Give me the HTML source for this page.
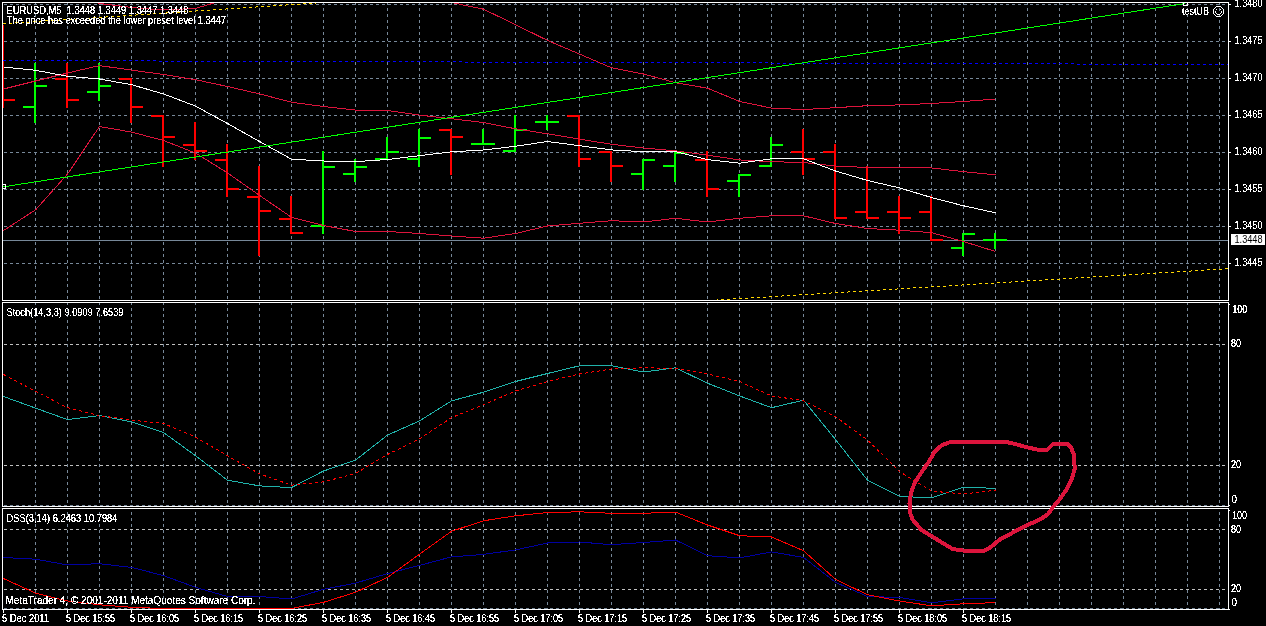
<!DOCTYPE html><html><head><meta charset="utf-8"><title>EURUSD,M5</title><style>html,body{margin:0;padding:0;background:#000;overflow:hidden}svg{display:block}text{font-family:'Liberation Sans', Arial, sans-serif;white-space:pre}</style></head><body>
<svg width="1266" height="626" viewBox="0 0 1266 626" shape-rendering="crispEdges">
<rect width="1266" height="626" fill="#000"/>
<defs><clipPath id="cm"><rect x="3" y="3" width="1225" height="297"/></clipPath><clipPath id="cs"><rect x="3" y="303" width="1225" height="203"/></clipPath><clipPath id="cd"><rect x="3" y="509" width="1225" height="100"/></clipPath></defs>
<g clip-path="url(#cm)">
<path d="M4 4.5h3M10 4.5h3M16 4.5h3M22 4.5h3M28 4.5h3M34 4.5h3M40 4.5h3M46 4.5h3M52 4.5h3M58 4.5h3M64 4.5h3M70 4.5h3M76 4.5h3M82 4.5h3M88 4.5h3M94 4.5h3M100 4.5h3M106 4.5h3M112 4.5h3M118 4.5h3M124 4.5h3M130 4.5h3M136 4.5h3M142 4.5h3M148 4.5h3M154 4.5h3M160 4.5h3M166 4.5h3M172 4.5h3M178 4.5h3M184 4.5h3M190 4.5h3M196 4.5h3M202 4.5h3M208 4.5h3M214 4.5h3M220 4.5h3M226 4.5h3M232 4.5h3M238 4.5h3M244 4.5h3M250 4.5h3M256 4.5h3M262 4.5h3M268 4.5h3M274 4.5h3M280 4.5h3M286 4.5h3M292 4.5h3M298 4.5h3M304 4.5h3M310 4.5h3M316 4.5h3M322 4.5h3M328 4.5h3M334 4.5h3M340 4.5h3M346 4.5h3M352 4.5h3M358 4.5h3M364 4.5h3M370 4.5h3M376 4.5h3M382 4.5h3M388 4.5h3M394 4.5h3M400 4.5h3M406 4.5h3M412 4.5h3M418 4.5h3M424 4.5h3M430 4.5h3M436 4.5h3M442 4.5h3M448 4.5h3M454 4.5h3M460 4.5h3M466 4.5h3M472 4.5h3M478 4.5h3M484 4.5h3M490 4.5h3M496 4.5h3M502 4.5h3M508 4.5h3M514 4.5h3M520 4.5h3M526 4.5h3M532 4.5h3M538 4.5h3M544 4.5h3M550 4.5h3M556 4.5h3M562 4.5h3M568 4.5h3M574 4.5h3M580 4.5h3M586 4.5h3M592 4.5h3M598 4.5h3M604 4.5h3M610 4.5h3M616 4.5h3M622 4.5h3M628 4.5h3M634 4.5h3M640 4.5h3M646 4.5h3M652 4.5h3M658 4.5h3M664 4.5h3M670 4.5h3M676 4.5h3M682 4.5h3M688 4.5h3M694 4.5h3M700 4.5h3M706 4.5h3M712 4.5h3M718 4.5h3M724 4.5h3M730 4.5h3M736 4.5h3M742 4.5h3M748 4.5h3M754 4.5h3M760 4.5h3M766 4.5h3M772 4.5h3M778 4.5h3M784 4.5h3M790 4.5h3M796 4.5h3M802 4.5h3M808 4.5h3M814 4.5h3M820 4.5h3M826 4.5h3M832 4.5h3M838 4.5h3M844 4.5h3M850 4.5h3M856 4.5h3M862 4.5h3M868 4.5h3M874 4.5h3M880 4.5h3M886 4.5h3M892 4.5h3M898 4.5h3M904 4.5h3M910 4.5h3M916 4.5h3M922 4.5h3M928 4.5h3M934 4.5h3M940 4.5h3M946 4.5h3M952 4.5h3M958 4.5h3M964 4.5h3M970 4.5h3M976 4.5h3M982 4.5h3M988 4.5h3M994 4.5h3M1000 4.5h3M1006 4.5h3M1012 4.5h3M1018 4.5h3M1024 4.5h3M1030 4.5h3M1036 4.5h3M1042 4.5h3M1048 4.5h3M1054 4.5h3M1060 4.5h3M1066 4.5h3M1072 4.5h3M1078 4.5h3M1084 4.5h3M1090 4.5h3M1096 4.5h3M1102 4.5h3M1108 4.5h3M1114 4.5h3M1120 4.5h3M1126 4.5h3M1132 4.5h3M1138 4.5h3M1144 4.5h3M1150 4.5h3M1156 4.5h3M1162 4.5h3M1168 4.5h3M1174 4.5h3M1180 4.5h3M1186 4.5h3M1192 4.5h3M1198 4.5h3M1204 4.5h3M1210 4.5h3M1216 4.5h3M1222 4.5h3" stroke="#778899" stroke-width="1" fill="none"/>
<path d="M4 41.5h3M10 41.5h3M16 41.5h3M22 41.5h3M28 41.5h3M34 41.5h3M40 41.5h3M46 41.5h3M52 41.5h3M58 41.5h3M64 41.5h3M70 41.5h3M76 41.5h3M82 41.5h3M88 41.5h3M94 41.5h3M100 41.5h3M106 41.5h3M112 41.5h3M118 41.5h3M124 41.5h3M130 41.5h3M136 41.5h3M142 41.5h3M148 41.5h3M154 41.5h3M160 41.5h3M166 41.5h3M172 41.5h3M178 41.5h3M184 41.5h3M190 41.5h3M196 41.5h3M202 41.5h3M208 41.5h3M214 41.5h3M220 41.5h3M226 41.5h3M232 41.5h3M238 41.5h3M244 41.5h3M250 41.5h3M256 41.5h3M262 41.5h3M268 41.5h3M274 41.5h3M280 41.5h3M286 41.5h3M292 41.5h3M298 41.5h3M304 41.5h3M310 41.5h3M316 41.5h3M322 41.5h3M328 41.5h3M334 41.5h3M340 41.5h3M346 41.5h3M352 41.5h3M358 41.5h3M364 41.5h3M370 41.5h3M376 41.5h3M382 41.5h3M388 41.5h3M394 41.5h3M400 41.5h3M406 41.5h3M412 41.5h3M418 41.5h3M424 41.5h3M430 41.5h3M436 41.5h3M442 41.5h3M448 41.5h3M454 41.5h3M460 41.5h3M466 41.5h3M472 41.5h3M478 41.5h3M484 41.5h3M490 41.5h3M496 41.5h3M502 41.5h3M508 41.5h3M514 41.5h3M520 41.5h3M526 41.5h3M532 41.5h3M538 41.5h3M544 41.5h3M550 41.5h3M556 41.5h3M562 41.5h3M568 41.5h3M574 41.5h3M580 41.5h3M586 41.5h3M592 41.5h3M598 41.5h3M604 41.5h3M610 41.5h3M616 41.5h3M622 41.5h3M628 41.5h3M634 41.5h3M640 41.5h3M646 41.5h3M652 41.5h3M658 41.5h3M664 41.5h3M670 41.5h3M676 41.5h3M682 41.5h3M688 41.5h3M694 41.5h3M700 41.5h3M706 41.5h3M712 41.5h3M718 41.5h3M724 41.5h3M730 41.5h3M736 41.5h3M742 41.5h3M748 41.5h3M754 41.5h3M760 41.5h3M766 41.5h3M772 41.5h3M778 41.5h3M784 41.5h3M790 41.5h3M796 41.5h3M802 41.5h3M808 41.5h3M814 41.5h3M820 41.5h3M826 41.5h3M832 41.5h3M838 41.5h3M844 41.5h3M850 41.5h3M856 41.5h3M862 41.5h3M868 41.5h3M874 41.5h3M880 41.5h3M886 41.5h3M892 41.5h3M898 41.5h3M904 41.5h3M910 41.5h3M916 41.5h3M922 41.5h3M928 41.5h3M934 41.5h3M940 41.5h3M946 41.5h3M952 41.5h3M958 41.5h3M964 41.5h3M970 41.5h3M976 41.5h3M982 41.5h3M988 41.5h3M994 41.5h3M1000 41.5h3M1006 41.5h3M1012 41.5h3M1018 41.5h3M1024 41.5h3M1030 41.5h3M1036 41.5h3M1042 41.5h3M1048 41.5h3M1054 41.5h3M1060 41.5h3M1066 41.5h3M1072 41.5h3M1078 41.5h3M1084 41.5h3M1090 41.5h3M1096 41.5h3M1102 41.5h3M1108 41.5h3M1114 41.5h3M1120 41.5h3M1126 41.5h3M1132 41.5h3M1138 41.5h3M1144 41.5h3M1150 41.5h3M1156 41.5h3M1162 41.5h3M1168 41.5h3M1174 41.5h3M1180 41.5h3M1186 41.5h3M1192 41.5h3M1198 41.5h3M1204 41.5h3M1210 41.5h3M1216 41.5h3M1222 41.5h3" stroke="#778899" stroke-width="1" fill="none"/>
<path d="M4 78.5h3M10 78.5h3M16 78.5h3M22 78.5h3M28 78.5h3M34 78.5h3M40 78.5h3M46 78.5h3M52 78.5h3M58 78.5h3M64 78.5h3M70 78.5h3M76 78.5h3M82 78.5h3M88 78.5h3M94 78.5h3M100 78.5h3M106 78.5h3M112 78.5h3M118 78.5h3M124 78.5h3M130 78.5h3M136 78.5h3M142 78.5h3M148 78.5h3M154 78.5h3M160 78.5h3M166 78.5h3M172 78.5h3M178 78.5h3M184 78.5h3M190 78.5h3M196 78.5h3M202 78.5h3M208 78.5h3M214 78.5h3M220 78.5h3M226 78.5h3M232 78.5h3M238 78.5h3M244 78.5h3M250 78.5h3M256 78.5h3M262 78.5h3M268 78.5h3M274 78.5h3M280 78.5h3M286 78.5h3M292 78.5h3M298 78.5h3M304 78.5h3M310 78.5h3M316 78.5h3M322 78.5h3M328 78.5h3M334 78.5h3M340 78.5h3M346 78.5h3M352 78.5h3M358 78.5h3M364 78.5h3M370 78.5h3M376 78.5h3M382 78.5h3M388 78.5h3M394 78.5h3M400 78.5h3M406 78.5h3M412 78.5h3M418 78.5h3M424 78.5h3M430 78.5h3M436 78.5h3M442 78.5h3M448 78.5h3M454 78.5h3M460 78.5h3M466 78.5h3M472 78.5h3M478 78.5h3M484 78.5h3M490 78.5h3M496 78.5h3M502 78.5h3M508 78.5h3M514 78.5h3M520 78.5h3M526 78.5h3M532 78.5h3M538 78.5h3M544 78.5h3M550 78.5h3M556 78.5h3M562 78.5h3M568 78.5h3M574 78.5h3M580 78.5h3M586 78.5h3M592 78.5h3M598 78.5h3M604 78.5h3M610 78.5h3M616 78.5h3M622 78.5h3M628 78.5h3M634 78.5h3M640 78.5h3M646 78.5h3M652 78.5h3M658 78.5h3M664 78.5h3M670 78.5h3M676 78.5h3M682 78.5h3M688 78.5h3M694 78.5h3M700 78.5h3M706 78.5h3M712 78.5h3M718 78.5h3M724 78.5h3M730 78.5h3M736 78.5h3M742 78.5h3M748 78.5h3M754 78.5h3M760 78.5h3M766 78.5h3M772 78.5h3M778 78.5h3M784 78.5h3M790 78.5h3M796 78.5h3M802 78.5h3M808 78.5h3M814 78.5h3M820 78.5h3M826 78.5h3M832 78.5h3M838 78.5h3M844 78.5h3M850 78.5h3M856 78.5h3M862 78.5h3M868 78.5h3M874 78.5h3M880 78.5h3M886 78.5h3M892 78.5h3M898 78.5h3M904 78.5h3M910 78.5h3M916 78.5h3M922 78.5h3M928 78.5h3M934 78.5h3M940 78.5h3M946 78.5h3M952 78.5h3M958 78.5h3M964 78.5h3M970 78.5h3M976 78.5h3M982 78.5h3M988 78.5h3M994 78.5h3M1000 78.5h3M1006 78.5h3M1012 78.5h3M1018 78.5h3M1024 78.5h3M1030 78.5h3M1036 78.5h3M1042 78.5h3M1048 78.5h3M1054 78.5h3M1060 78.5h3M1066 78.5h3M1072 78.5h3M1078 78.5h3M1084 78.5h3M1090 78.5h3M1096 78.5h3M1102 78.5h3M1108 78.5h3M1114 78.5h3M1120 78.5h3M1126 78.5h3M1132 78.5h3M1138 78.5h3M1144 78.5h3M1150 78.5h3M1156 78.5h3M1162 78.5h3M1168 78.5h3M1174 78.5h3M1180 78.5h3M1186 78.5h3M1192 78.5h3M1198 78.5h3M1204 78.5h3M1210 78.5h3M1216 78.5h3M1222 78.5h3" stroke="#778899" stroke-width="1" fill="none"/>
<path d="M4 115.5h3M10 115.5h3M16 115.5h3M22 115.5h3M28 115.5h3M34 115.5h3M40 115.5h3M46 115.5h3M52 115.5h3M58 115.5h3M64 115.5h3M70 115.5h3M76 115.5h3M82 115.5h3M88 115.5h3M94 115.5h3M100 115.5h3M106 115.5h3M112 115.5h3M118 115.5h3M124 115.5h3M130 115.5h3M136 115.5h3M142 115.5h3M148 115.5h3M154 115.5h3M160 115.5h3M166 115.5h3M172 115.5h3M178 115.5h3M184 115.5h3M190 115.5h3M196 115.5h3M202 115.5h3M208 115.5h3M214 115.5h3M220 115.5h3M226 115.5h3M232 115.5h3M238 115.5h3M244 115.5h3M250 115.5h3M256 115.5h3M262 115.5h3M268 115.5h3M274 115.5h3M280 115.5h3M286 115.5h3M292 115.5h3M298 115.5h3M304 115.5h3M310 115.5h3M316 115.5h3M322 115.5h3M328 115.5h3M334 115.5h3M340 115.5h3M346 115.5h3M352 115.5h3M358 115.5h3M364 115.5h3M370 115.5h3M376 115.5h3M382 115.5h3M388 115.5h3M394 115.5h3M400 115.5h3M406 115.5h3M412 115.5h3M418 115.5h3M424 115.5h3M430 115.5h3M436 115.5h3M442 115.5h3M448 115.5h3M454 115.5h3M460 115.5h3M466 115.5h3M472 115.5h3M478 115.5h3M484 115.5h3M490 115.5h3M496 115.5h3M502 115.5h3M508 115.5h3M514 115.5h3M520 115.5h3M526 115.5h3M532 115.5h3M538 115.5h3M544 115.5h3M550 115.5h3M556 115.5h3M562 115.5h3M568 115.5h3M574 115.5h3M580 115.5h3M586 115.5h3M592 115.5h3M598 115.5h3M604 115.5h3M610 115.5h3M616 115.5h3M622 115.5h3M628 115.5h3M634 115.5h3M640 115.5h3M646 115.5h3M652 115.5h3M658 115.5h3M664 115.5h3M670 115.5h3M676 115.5h3M682 115.5h3M688 115.5h3M694 115.5h3M700 115.5h3M706 115.5h3M712 115.5h3M718 115.5h3M724 115.5h3M730 115.5h3M736 115.5h3M742 115.5h3M748 115.5h3M754 115.5h3M760 115.5h3M766 115.5h3M772 115.5h3M778 115.5h3M784 115.5h3M790 115.5h3M796 115.5h3M802 115.5h3M808 115.5h3M814 115.5h3M820 115.5h3M826 115.5h3M832 115.5h3M838 115.5h3M844 115.5h3M850 115.5h3M856 115.5h3M862 115.5h3M868 115.5h3M874 115.5h3M880 115.5h3M886 115.5h3M892 115.5h3M898 115.5h3M904 115.5h3M910 115.5h3M916 115.5h3M922 115.5h3M928 115.5h3M934 115.5h3M940 115.5h3M946 115.5h3M952 115.5h3M958 115.5h3M964 115.5h3M970 115.5h3M976 115.5h3M982 115.5h3M988 115.5h3M994 115.5h3M1000 115.5h3M1006 115.5h3M1012 115.5h3M1018 115.5h3M1024 115.5h3M1030 115.5h3M1036 115.5h3M1042 115.5h3M1048 115.5h3M1054 115.5h3M1060 115.5h3M1066 115.5h3M1072 115.5h3M1078 115.5h3M1084 115.5h3M1090 115.5h3M1096 115.5h3M1102 115.5h3M1108 115.5h3M1114 115.5h3M1120 115.5h3M1126 115.5h3M1132 115.5h3M1138 115.5h3M1144 115.5h3M1150 115.5h3M1156 115.5h3M1162 115.5h3M1168 115.5h3M1174 115.5h3M1180 115.5h3M1186 115.5h3M1192 115.5h3M1198 115.5h3M1204 115.5h3M1210 115.5h3M1216 115.5h3M1222 115.5h3" stroke="#778899" stroke-width="1" fill="none"/>
<path d="M4 152.5h3M10 152.5h3M16 152.5h3M22 152.5h3M28 152.5h3M34 152.5h3M40 152.5h3M46 152.5h3M52 152.5h3M58 152.5h3M64 152.5h3M70 152.5h3M76 152.5h3M82 152.5h3M88 152.5h3M94 152.5h3M100 152.5h3M106 152.5h3M112 152.5h3M118 152.5h3M124 152.5h3M130 152.5h3M136 152.5h3M142 152.5h3M148 152.5h3M154 152.5h3M160 152.5h3M166 152.5h3M172 152.5h3M178 152.5h3M184 152.5h3M190 152.5h3M196 152.5h3M202 152.5h3M208 152.5h3M214 152.5h3M220 152.5h3M226 152.5h3M232 152.5h3M238 152.5h3M244 152.5h3M250 152.5h3M256 152.5h3M262 152.5h3M268 152.5h3M274 152.5h3M280 152.5h3M286 152.5h3M292 152.5h3M298 152.5h3M304 152.5h3M310 152.5h3M316 152.5h3M322 152.5h3M328 152.5h3M334 152.5h3M340 152.5h3M346 152.5h3M352 152.5h3M358 152.5h3M364 152.5h3M370 152.5h3M376 152.5h3M382 152.5h3M388 152.5h3M394 152.5h3M400 152.5h3M406 152.5h3M412 152.5h3M418 152.5h3M424 152.5h3M430 152.5h3M436 152.5h3M442 152.5h3M448 152.5h3M454 152.5h3M460 152.5h3M466 152.5h3M472 152.5h3M478 152.5h3M484 152.5h3M490 152.5h3M496 152.5h3M502 152.5h3M508 152.5h3M514 152.5h3M520 152.5h3M526 152.5h3M532 152.5h3M538 152.5h3M544 152.5h3M550 152.5h3M556 152.5h3M562 152.5h3M568 152.5h3M574 152.5h3M580 152.5h3M586 152.5h3M592 152.5h3M598 152.5h3M604 152.5h3M610 152.5h3M616 152.5h3M622 152.5h3M628 152.5h3M634 152.5h3M640 152.5h3M646 152.5h3M652 152.5h3M658 152.5h3M664 152.5h3M670 152.5h3M676 152.5h3M682 152.5h3M688 152.5h3M694 152.5h3M700 152.5h3M706 152.5h3M712 152.5h3M718 152.5h3M724 152.5h3M730 152.5h3M736 152.5h3M742 152.5h3M748 152.5h3M754 152.5h3M760 152.5h3M766 152.5h3M772 152.5h3M778 152.5h3M784 152.5h3M790 152.5h3M796 152.5h3M802 152.5h3M808 152.5h3M814 152.5h3M820 152.5h3M826 152.5h3M832 152.5h3M838 152.5h3M844 152.5h3M850 152.5h3M856 152.5h3M862 152.5h3M868 152.5h3M874 152.5h3M880 152.5h3M886 152.5h3M892 152.5h3M898 152.5h3M904 152.5h3M910 152.5h3M916 152.5h3M922 152.5h3M928 152.5h3M934 152.5h3M940 152.5h3M946 152.5h3M952 152.5h3M958 152.5h3M964 152.5h3M970 152.5h3M976 152.5h3M982 152.5h3M988 152.5h3M994 152.5h3M1000 152.5h3M1006 152.5h3M1012 152.5h3M1018 152.5h3M1024 152.5h3M1030 152.5h3M1036 152.5h3M1042 152.5h3M1048 152.5h3M1054 152.5h3M1060 152.5h3M1066 152.5h3M1072 152.5h3M1078 152.5h3M1084 152.5h3M1090 152.5h3M1096 152.5h3M1102 152.5h3M1108 152.5h3M1114 152.5h3M1120 152.5h3M1126 152.5h3M1132 152.5h3M1138 152.5h3M1144 152.5h3M1150 152.5h3M1156 152.5h3M1162 152.5h3M1168 152.5h3M1174 152.5h3M1180 152.5h3M1186 152.5h3M1192 152.5h3M1198 152.5h3M1204 152.5h3M1210 152.5h3M1216 152.5h3M1222 152.5h3" stroke="#778899" stroke-width="1" fill="none"/>
<path d="M4 189.5h3M10 189.5h3M16 189.5h3M22 189.5h3M28 189.5h3M34 189.5h3M40 189.5h3M46 189.5h3M52 189.5h3M58 189.5h3M64 189.5h3M70 189.5h3M76 189.5h3M82 189.5h3M88 189.5h3M94 189.5h3M100 189.5h3M106 189.5h3M112 189.5h3M118 189.5h3M124 189.5h3M130 189.5h3M136 189.5h3M142 189.5h3M148 189.5h3M154 189.5h3M160 189.5h3M166 189.5h3M172 189.5h3M178 189.5h3M184 189.5h3M190 189.5h3M196 189.5h3M202 189.5h3M208 189.5h3M214 189.5h3M220 189.5h3M226 189.5h3M232 189.5h3M238 189.5h3M244 189.5h3M250 189.5h3M256 189.5h3M262 189.5h3M268 189.5h3M274 189.5h3M280 189.5h3M286 189.5h3M292 189.5h3M298 189.5h3M304 189.5h3M310 189.5h3M316 189.5h3M322 189.5h3M328 189.5h3M334 189.5h3M340 189.5h3M346 189.5h3M352 189.5h3M358 189.5h3M364 189.5h3M370 189.5h3M376 189.5h3M382 189.5h3M388 189.5h3M394 189.5h3M400 189.5h3M406 189.5h3M412 189.5h3M418 189.5h3M424 189.5h3M430 189.5h3M436 189.5h3M442 189.5h3M448 189.5h3M454 189.5h3M460 189.5h3M466 189.5h3M472 189.5h3M478 189.5h3M484 189.5h3M490 189.5h3M496 189.5h3M502 189.5h3M508 189.5h3M514 189.5h3M520 189.5h3M526 189.5h3M532 189.5h3M538 189.5h3M544 189.5h3M550 189.5h3M556 189.5h3M562 189.5h3M568 189.5h3M574 189.5h3M580 189.5h3M586 189.5h3M592 189.5h3M598 189.5h3M604 189.5h3M610 189.5h3M616 189.5h3M622 189.5h3M628 189.5h3M634 189.5h3M640 189.5h3M646 189.5h3M652 189.5h3M658 189.5h3M664 189.5h3M670 189.5h3M676 189.5h3M682 189.5h3M688 189.5h3M694 189.5h3M700 189.5h3M706 189.5h3M712 189.5h3M718 189.5h3M724 189.5h3M730 189.5h3M736 189.5h3M742 189.5h3M748 189.5h3M754 189.5h3M760 189.5h3M766 189.5h3M772 189.5h3M778 189.5h3M784 189.5h3M790 189.5h3M796 189.5h3M802 189.5h3M808 189.5h3M814 189.5h3M820 189.5h3M826 189.5h3M832 189.5h3M838 189.5h3M844 189.5h3M850 189.5h3M856 189.5h3M862 189.5h3M868 189.5h3M874 189.5h3M880 189.5h3M886 189.5h3M892 189.5h3M898 189.5h3M904 189.5h3M910 189.5h3M916 189.5h3M922 189.5h3M928 189.5h3M934 189.5h3M940 189.5h3M946 189.5h3M952 189.5h3M958 189.5h3M964 189.5h3M970 189.5h3M976 189.5h3M982 189.5h3M988 189.5h3M994 189.5h3M1000 189.5h3M1006 189.5h3M1012 189.5h3M1018 189.5h3M1024 189.5h3M1030 189.5h3M1036 189.5h3M1042 189.5h3M1048 189.5h3M1054 189.5h3M1060 189.5h3M1066 189.5h3M1072 189.5h3M1078 189.5h3M1084 189.5h3M1090 189.5h3M1096 189.5h3M1102 189.5h3M1108 189.5h3M1114 189.5h3M1120 189.5h3M1126 189.5h3M1132 189.5h3M1138 189.5h3M1144 189.5h3M1150 189.5h3M1156 189.5h3M1162 189.5h3M1168 189.5h3M1174 189.5h3M1180 189.5h3M1186 189.5h3M1192 189.5h3M1198 189.5h3M1204 189.5h3M1210 189.5h3M1216 189.5h3M1222 189.5h3" stroke="#778899" stroke-width="1" fill="none"/>
<path d="M4 226.5h3M10 226.5h3M16 226.5h3M22 226.5h3M28 226.5h3M34 226.5h3M40 226.5h3M46 226.5h3M52 226.5h3M58 226.5h3M64 226.5h3M70 226.5h3M76 226.5h3M82 226.5h3M88 226.5h3M94 226.5h3M100 226.5h3M106 226.5h3M112 226.5h3M118 226.5h3M124 226.5h3M130 226.5h3M136 226.5h3M142 226.5h3M148 226.5h3M154 226.5h3M160 226.5h3M166 226.5h3M172 226.5h3M178 226.5h3M184 226.5h3M190 226.5h3M196 226.5h3M202 226.5h3M208 226.5h3M214 226.5h3M220 226.5h3M226 226.5h3M232 226.5h3M238 226.5h3M244 226.5h3M250 226.5h3M256 226.5h3M262 226.5h3M268 226.5h3M274 226.5h3M280 226.5h3M286 226.5h3M292 226.5h3M298 226.5h3M304 226.5h3M310 226.5h3M316 226.5h3M322 226.5h3M328 226.5h3M334 226.5h3M340 226.5h3M346 226.5h3M352 226.5h3M358 226.5h3M364 226.5h3M370 226.5h3M376 226.5h3M382 226.5h3M388 226.5h3M394 226.5h3M400 226.5h3M406 226.5h3M412 226.5h3M418 226.5h3M424 226.5h3M430 226.5h3M436 226.5h3M442 226.5h3M448 226.5h3M454 226.5h3M460 226.5h3M466 226.5h3M472 226.5h3M478 226.5h3M484 226.5h3M490 226.5h3M496 226.5h3M502 226.5h3M508 226.5h3M514 226.5h3M520 226.5h3M526 226.5h3M532 226.5h3M538 226.5h3M544 226.5h3M550 226.5h3M556 226.5h3M562 226.5h3M568 226.5h3M574 226.5h3M580 226.5h3M586 226.5h3M592 226.5h3M598 226.5h3M604 226.5h3M610 226.5h3M616 226.5h3M622 226.5h3M628 226.5h3M634 226.5h3M640 226.5h3M646 226.5h3M652 226.5h3M658 226.5h3M664 226.5h3M670 226.5h3M676 226.5h3M682 226.5h3M688 226.5h3M694 226.5h3M700 226.5h3M706 226.5h3M712 226.5h3M718 226.5h3M724 226.5h3M730 226.5h3M736 226.5h3M742 226.5h3M748 226.5h3M754 226.5h3M760 226.5h3M766 226.5h3M772 226.5h3M778 226.5h3M784 226.5h3M790 226.5h3M796 226.5h3M802 226.5h3M808 226.5h3M814 226.5h3M820 226.5h3M826 226.5h3M832 226.5h3M838 226.5h3M844 226.5h3M850 226.5h3M856 226.5h3M862 226.5h3M868 226.5h3M874 226.5h3M880 226.5h3M886 226.5h3M892 226.5h3M898 226.5h3M904 226.5h3M910 226.5h3M916 226.5h3M922 226.5h3M928 226.5h3M934 226.5h3M940 226.5h3M946 226.5h3M952 226.5h3M958 226.5h3M964 226.5h3M970 226.5h3M976 226.5h3M982 226.5h3M988 226.5h3M994 226.5h3M1000 226.5h3M1006 226.5h3M1012 226.5h3M1018 226.5h3M1024 226.5h3M1030 226.5h3M1036 226.5h3M1042 226.5h3M1048 226.5h3M1054 226.5h3M1060 226.5h3M1066 226.5h3M1072 226.5h3M1078 226.5h3M1084 226.5h3M1090 226.5h3M1096 226.5h3M1102 226.5h3M1108 226.5h3M1114 226.5h3M1120 226.5h3M1126 226.5h3M1132 226.5h3M1138 226.5h3M1144 226.5h3M1150 226.5h3M1156 226.5h3M1162 226.5h3M1168 226.5h3M1174 226.5h3M1180 226.5h3M1186 226.5h3M1192 226.5h3M1198 226.5h3M1204 226.5h3M1210 226.5h3M1216 226.5h3M1222 226.5h3" stroke="#778899" stroke-width="1" fill="none"/>
<path d="M4 263.5h3M10 263.5h3M16 263.5h3M22 263.5h3M28 263.5h3M34 263.5h3M40 263.5h3M46 263.5h3M52 263.5h3M58 263.5h3M64 263.5h3M70 263.5h3M76 263.5h3M82 263.5h3M88 263.5h3M94 263.5h3M100 263.5h3M106 263.5h3M112 263.5h3M118 263.5h3M124 263.5h3M130 263.5h3M136 263.5h3M142 263.5h3M148 263.5h3M154 263.5h3M160 263.5h3M166 263.5h3M172 263.5h3M178 263.5h3M184 263.5h3M190 263.5h3M196 263.5h3M202 263.5h3M208 263.5h3M214 263.5h3M220 263.5h3M226 263.5h3M232 263.5h3M238 263.5h3M244 263.5h3M250 263.5h3M256 263.5h3M262 263.5h3M268 263.5h3M274 263.5h3M280 263.5h3M286 263.5h3M292 263.5h3M298 263.5h3M304 263.5h3M310 263.5h3M316 263.5h3M322 263.5h3M328 263.5h3M334 263.5h3M340 263.5h3M346 263.5h3M352 263.5h3M358 263.5h3M364 263.5h3M370 263.5h3M376 263.5h3M382 263.5h3M388 263.5h3M394 263.5h3M400 263.5h3M406 263.5h3M412 263.5h3M418 263.5h3M424 263.5h3M430 263.5h3M436 263.5h3M442 263.5h3M448 263.5h3M454 263.5h3M460 263.5h3M466 263.5h3M472 263.5h3M478 263.5h3M484 263.5h3M490 263.5h3M496 263.5h3M502 263.5h3M508 263.5h3M514 263.5h3M520 263.5h3M526 263.5h3M532 263.5h3M538 263.5h3M544 263.5h3M550 263.5h3M556 263.5h3M562 263.5h3M568 263.5h3M574 263.5h3M580 263.5h3M586 263.5h3M592 263.5h3M598 263.5h3M604 263.5h3M610 263.5h3M616 263.5h3M622 263.5h3M628 263.5h3M634 263.5h3M640 263.5h3M646 263.5h3M652 263.5h3M658 263.5h3M664 263.5h3M670 263.5h3M676 263.5h3M682 263.5h3M688 263.5h3M694 263.5h3M700 263.5h3M706 263.5h3M712 263.5h3M718 263.5h3M724 263.5h3M730 263.5h3M736 263.5h3M742 263.5h3M748 263.5h3M754 263.5h3M760 263.5h3M766 263.5h3M772 263.5h3M778 263.5h3M784 263.5h3M790 263.5h3M796 263.5h3M802 263.5h3M808 263.5h3M814 263.5h3M820 263.5h3M826 263.5h3M832 263.5h3M838 263.5h3M844 263.5h3M850 263.5h3M856 263.5h3M862 263.5h3M868 263.5h3M874 263.5h3M880 263.5h3M886 263.5h3M892 263.5h3M898 263.5h3M904 263.5h3M910 263.5h3M916 263.5h3M922 263.5h3M928 263.5h3M934 263.5h3M940 263.5h3M946 263.5h3M952 263.5h3M958 263.5h3M964 263.5h3M970 263.5h3M976 263.5h3M982 263.5h3M988 263.5h3M994 263.5h3M1000 263.5h3M1006 263.5h3M1012 263.5h3M1018 263.5h3M1024 263.5h3M1030 263.5h3M1036 263.5h3M1042 263.5h3M1048 263.5h3M1054 263.5h3M1060 263.5h3M1066 263.5h3M1072 263.5h3M1078 263.5h3M1084 263.5h3M1090 263.5h3M1096 263.5h3M1102 263.5h3M1108 263.5h3M1114 263.5h3M1120 263.5h3M1126 263.5h3M1132 263.5h3M1138 263.5h3M1144 263.5h3M1150 263.5h3M1156 263.5h3M1162 263.5h3M1168 263.5h3M1174 263.5h3M1180 263.5h3M1186 263.5h3M1192 263.5h3M1198 263.5h3M1204 263.5h3M1210 263.5h3M1216 263.5h3M1222 263.5h3" stroke="#778899" stroke-width="1" fill="none"/>
<path d="M35.5 3v2M35.5 8v3M35.5 14v3M35.5 20v3M35.5 26v3M35.5 32v3M35.5 38v3M35.5 44v3M35.5 50v3M35.5 56v3M35.5 62v3M35.5 68v3M35.5 74v3M35.5 80v3M35.5 86v3M35.5 92v3M35.5 98v3M35.5 104v3M35.5 110v3M35.5 116v3M35.5 122v3M35.5 128v3M35.5 134v3M35.5 140v3M35.5 146v3M35.5 152v3M35.5 158v3M35.5 164v3M35.5 170v3M35.5 176v3M35.5 182v3M35.5 188v3M35.5 194v3M35.5 200v3M35.5 206v3M35.5 212v3M35.5 218v3M35.5 224v3M35.5 230v3M35.5 236v3M35.5 242v3M35.5 248v3M35.5 254v3M35.5 260v3M35.5 266v3M35.5 272v3M35.5 278v3M35.5 284v3M35.5 290v3M35.5 296v3" stroke="#778899" stroke-width="1" fill="none"/>
<path d="M67.5 3v2M67.5 8v3M67.5 14v3M67.5 20v3M67.5 26v3M67.5 32v3M67.5 38v3M67.5 44v3M67.5 50v3M67.5 56v3M67.5 62v3M67.5 68v3M67.5 74v3M67.5 80v3M67.5 86v3M67.5 92v3M67.5 98v3M67.5 104v3M67.5 110v3M67.5 116v3M67.5 122v3M67.5 128v3M67.5 134v3M67.5 140v3M67.5 146v3M67.5 152v3M67.5 158v3M67.5 164v3M67.5 170v3M67.5 176v3M67.5 182v3M67.5 188v3M67.5 194v3M67.5 200v3M67.5 206v3M67.5 212v3M67.5 218v3M67.5 224v3M67.5 230v3M67.5 236v3M67.5 242v3M67.5 248v3M67.5 254v3M67.5 260v3M67.5 266v3M67.5 272v3M67.5 278v3M67.5 284v3M67.5 290v3M67.5 296v3" stroke="#778899" stroke-width="1" fill="none"/>
<path d="M99.5 3v2M99.5 8v3M99.5 14v3M99.5 20v3M99.5 26v3M99.5 32v3M99.5 38v3M99.5 44v3M99.5 50v3M99.5 56v3M99.5 62v3M99.5 68v3M99.5 74v3M99.5 80v3M99.5 86v3M99.5 92v3M99.5 98v3M99.5 104v3M99.5 110v3M99.5 116v3M99.5 122v3M99.5 128v3M99.5 134v3M99.5 140v3M99.5 146v3M99.5 152v3M99.5 158v3M99.5 164v3M99.5 170v3M99.5 176v3M99.5 182v3M99.5 188v3M99.5 194v3M99.5 200v3M99.5 206v3M99.5 212v3M99.5 218v3M99.5 224v3M99.5 230v3M99.5 236v3M99.5 242v3M99.5 248v3M99.5 254v3M99.5 260v3M99.5 266v3M99.5 272v3M99.5 278v3M99.5 284v3M99.5 290v3M99.5 296v3" stroke="#778899" stroke-width="1" fill="none"/>
<path d="M131.5 3v2M131.5 8v3M131.5 14v3M131.5 20v3M131.5 26v3M131.5 32v3M131.5 38v3M131.5 44v3M131.5 50v3M131.5 56v3M131.5 62v3M131.5 68v3M131.5 74v3M131.5 80v3M131.5 86v3M131.5 92v3M131.5 98v3M131.5 104v3M131.5 110v3M131.5 116v3M131.5 122v3M131.5 128v3M131.5 134v3M131.5 140v3M131.5 146v3M131.5 152v3M131.5 158v3M131.5 164v3M131.5 170v3M131.5 176v3M131.5 182v3M131.5 188v3M131.5 194v3M131.5 200v3M131.5 206v3M131.5 212v3M131.5 218v3M131.5 224v3M131.5 230v3M131.5 236v3M131.5 242v3M131.5 248v3M131.5 254v3M131.5 260v3M131.5 266v3M131.5 272v3M131.5 278v3M131.5 284v3M131.5 290v3M131.5 296v3" stroke="#778899" stroke-width="1" fill="none"/>
<path d="M163.5 3v2M163.5 8v3M163.5 14v3M163.5 20v3M163.5 26v3M163.5 32v3M163.5 38v3M163.5 44v3M163.5 50v3M163.5 56v3M163.5 62v3M163.5 68v3M163.5 74v3M163.5 80v3M163.5 86v3M163.5 92v3M163.5 98v3M163.5 104v3M163.5 110v3M163.5 116v3M163.5 122v3M163.5 128v3M163.5 134v3M163.5 140v3M163.5 146v3M163.5 152v3M163.5 158v3M163.5 164v3M163.5 170v3M163.5 176v3M163.5 182v3M163.5 188v3M163.5 194v3M163.5 200v3M163.5 206v3M163.5 212v3M163.5 218v3M163.5 224v3M163.5 230v3M163.5 236v3M163.5 242v3M163.5 248v3M163.5 254v3M163.5 260v3M163.5 266v3M163.5 272v3M163.5 278v3M163.5 284v3M163.5 290v3M163.5 296v3" stroke="#778899" stroke-width="1" fill="none"/>
<path d="M195.5 3v2M195.5 8v3M195.5 14v3M195.5 20v3M195.5 26v3M195.5 32v3M195.5 38v3M195.5 44v3M195.5 50v3M195.5 56v3M195.5 62v3M195.5 68v3M195.5 74v3M195.5 80v3M195.5 86v3M195.5 92v3M195.5 98v3M195.5 104v3M195.5 110v3M195.5 116v3M195.5 122v3M195.5 128v3M195.5 134v3M195.5 140v3M195.5 146v3M195.5 152v3M195.5 158v3M195.5 164v3M195.5 170v3M195.5 176v3M195.5 182v3M195.5 188v3M195.5 194v3M195.5 200v3M195.5 206v3M195.5 212v3M195.5 218v3M195.5 224v3M195.5 230v3M195.5 236v3M195.5 242v3M195.5 248v3M195.5 254v3M195.5 260v3M195.5 266v3M195.5 272v3M195.5 278v3M195.5 284v3M195.5 290v3M195.5 296v3" stroke="#778899" stroke-width="1" fill="none"/>
<path d="M227.5 3v2M227.5 8v3M227.5 14v3M227.5 20v3M227.5 26v3M227.5 32v3M227.5 38v3M227.5 44v3M227.5 50v3M227.5 56v3M227.5 62v3M227.5 68v3M227.5 74v3M227.5 80v3M227.5 86v3M227.5 92v3M227.5 98v3M227.5 104v3M227.5 110v3M227.5 116v3M227.5 122v3M227.5 128v3M227.5 134v3M227.5 140v3M227.5 146v3M227.5 152v3M227.5 158v3M227.5 164v3M227.5 170v3M227.5 176v3M227.5 182v3M227.5 188v3M227.5 194v3M227.5 200v3M227.5 206v3M227.5 212v3M227.5 218v3M227.5 224v3M227.5 230v3M227.5 236v3M227.5 242v3M227.5 248v3M227.5 254v3M227.5 260v3M227.5 266v3M227.5 272v3M227.5 278v3M227.5 284v3M227.5 290v3M227.5 296v3" stroke="#778899" stroke-width="1" fill="none"/>
<path d="M259.5 3v2M259.5 8v3M259.5 14v3M259.5 20v3M259.5 26v3M259.5 32v3M259.5 38v3M259.5 44v3M259.5 50v3M259.5 56v3M259.5 62v3M259.5 68v3M259.5 74v3M259.5 80v3M259.5 86v3M259.5 92v3M259.5 98v3M259.5 104v3M259.5 110v3M259.5 116v3M259.5 122v3M259.5 128v3M259.5 134v3M259.5 140v3M259.5 146v3M259.5 152v3M259.5 158v3M259.5 164v3M259.5 170v3M259.5 176v3M259.5 182v3M259.5 188v3M259.5 194v3M259.5 200v3M259.5 206v3M259.5 212v3M259.5 218v3M259.5 224v3M259.5 230v3M259.5 236v3M259.5 242v3M259.5 248v3M259.5 254v3M259.5 260v3M259.5 266v3M259.5 272v3M259.5 278v3M259.5 284v3M259.5 290v3M259.5 296v3" stroke="#778899" stroke-width="1" fill="none"/>
<path d="M291.5 3v2M291.5 8v3M291.5 14v3M291.5 20v3M291.5 26v3M291.5 32v3M291.5 38v3M291.5 44v3M291.5 50v3M291.5 56v3M291.5 62v3M291.5 68v3M291.5 74v3M291.5 80v3M291.5 86v3M291.5 92v3M291.5 98v3M291.5 104v3M291.5 110v3M291.5 116v3M291.5 122v3M291.5 128v3M291.5 134v3M291.5 140v3M291.5 146v3M291.5 152v3M291.5 158v3M291.5 164v3M291.5 170v3M291.5 176v3M291.5 182v3M291.5 188v3M291.5 194v3M291.5 200v3M291.5 206v3M291.5 212v3M291.5 218v3M291.5 224v3M291.5 230v3M291.5 236v3M291.5 242v3M291.5 248v3M291.5 254v3M291.5 260v3M291.5 266v3M291.5 272v3M291.5 278v3M291.5 284v3M291.5 290v3M291.5 296v3" stroke="#778899" stroke-width="1" fill="none"/>
<path d="M323.5 3v2M323.5 8v3M323.5 14v3M323.5 20v3M323.5 26v3M323.5 32v3M323.5 38v3M323.5 44v3M323.5 50v3M323.5 56v3M323.5 62v3M323.5 68v3M323.5 74v3M323.5 80v3M323.5 86v3M323.5 92v3M323.5 98v3M323.5 104v3M323.5 110v3M323.5 116v3M323.5 122v3M323.5 128v3M323.5 134v3M323.5 140v3M323.5 146v3M323.5 152v3M323.5 158v3M323.5 164v3M323.5 170v3M323.5 176v3M323.5 182v3M323.5 188v3M323.5 194v3M323.5 200v3M323.5 206v3M323.5 212v3M323.5 218v3M323.5 224v3M323.5 230v3M323.5 236v3M323.5 242v3M323.5 248v3M323.5 254v3M323.5 260v3M323.5 266v3M323.5 272v3M323.5 278v3M323.5 284v3M323.5 290v3M323.5 296v3" stroke="#778899" stroke-width="1" fill="none"/>
<path d="M355.5 3v2M355.5 8v3M355.5 14v3M355.5 20v3M355.5 26v3M355.5 32v3M355.5 38v3M355.5 44v3M355.5 50v3M355.5 56v3M355.5 62v3M355.5 68v3M355.5 74v3M355.5 80v3M355.5 86v3M355.5 92v3M355.5 98v3M355.5 104v3M355.5 110v3M355.5 116v3M355.5 122v3M355.5 128v3M355.5 134v3M355.5 140v3M355.5 146v3M355.5 152v3M355.5 158v3M355.5 164v3M355.5 170v3M355.5 176v3M355.5 182v3M355.5 188v3M355.5 194v3M355.5 200v3M355.5 206v3M355.5 212v3M355.5 218v3M355.5 224v3M355.5 230v3M355.5 236v3M355.5 242v3M355.5 248v3M355.5 254v3M355.5 260v3M355.5 266v3M355.5 272v3M355.5 278v3M355.5 284v3M355.5 290v3M355.5 296v3" stroke="#778899" stroke-width="1" fill="none"/>
<path d="M387.5 3v2M387.5 8v3M387.5 14v3M387.5 20v3M387.5 26v3M387.5 32v3M387.5 38v3M387.5 44v3M387.5 50v3M387.5 56v3M387.5 62v3M387.5 68v3M387.5 74v3M387.5 80v3M387.5 86v3M387.5 92v3M387.5 98v3M387.5 104v3M387.5 110v3M387.5 116v3M387.5 122v3M387.5 128v3M387.5 134v3M387.5 140v3M387.5 146v3M387.5 152v3M387.5 158v3M387.5 164v3M387.5 170v3M387.5 176v3M387.5 182v3M387.5 188v3M387.5 194v3M387.5 200v3M387.5 206v3M387.5 212v3M387.5 218v3M387.5 224v3M387.5 230v3M387.5 236v3M387.5 242v3M387.5 248v3M387.5 254v3M387.5 260v3M387.5 266v3M387.5 272v3M387.5 278v3M387.5 284v3M387.5 290v3M387.5 296v3" stroke="#778899" stroke-width="1" fill="none"/>
<path d="M419.5 3v2M419.5 8v3M419.5 14v3M419.5 20v3M419.5 26v3M419.5 32v3M419.5 38v3M419.5 44v3M419.5 50v3M419.5 56v3M419.5 62v3M419.5 68v3M419.5 74v3M419.5 80v3M419.5 86v3M419.5 92v3M419.5 98v3M419.5 104v3M419.5 110v3M419.5 116v3M419.5 122v3M419.5 128v3M419.5 134v3M419.5 140v3M419.5 146v3M419.5 152v3M419.5 158v3M419.5 164v3M419.5 170v3M419.5 176v3M419.5 182v3M419.5 188v3M419.5 194v3M419.5 200v3M419.5 206v3M419.5 212v3M419.5 218v3M419.5 224v3M419.5 230v3M419.5 236v3M419.5 242v3M419.5 248v3M419.5 254v3M419.5 260v3M419.5 266v3M419.5 272v3M419.5 278v3M419.5 284v3M419.5 290v3M419.5 296v3" stroke="#778899" stroke-width="1" fill="none"/>
<path d="M451.5 3v2M451.5 8v3M451.5 14v3M451.5 20v3M451.5 26v3M451.5 32v3M451.5 38v3M451.5 44v3M451.5 50v3M451.5 56v3M451.5 62v3M451.5 68v3M451.5 74v3M451.5 80v3M451.5 86v3M451.5 92v3M451.5 98v3M451.5 104v3M451.5 110v3M451.5 116v3M451.5 122v3M451.5 128v3M451.5 134v3M451.5 140v3M451.5 146v3M451.5 152v3M451.5 158v3M451.5 164v3M451.5 170v3M451.5 176v3M451.5 182v3M451.5 188v3M451.5 194v3M451.5 200v3M451.5 206v3M451.5 212v3M451.5 218v3M451.5 224v3M451.5 230v3M451.5 236v3M451.5 242v3M451.5 248v3M451.5 254v3M451.5 260v3M451.5 266v3M451.5 272v3M451.5 278v3M451.5 284v3M451.5 290v3M451.5 296v3" stroke="#778899" stroke-width="1" fill="none"/>
<path d="M483.5 3v2M483.5 8v3M483.5 14v3M483.5 20v3M483.5 26v3M483.5 32v3M483.5 38v3M483.5 44v3M483.5 50v3M483.5 56v3M483.5 62v3M483.5 68v3M483.5 74v3M483.5 80v3M483.5 86v3M483.5 92v3M483.5 98v3M483.5 104v3M483.5 110v3M483.5 116v3M483.5 122v3M483.5 128v3M483.5 134v3M483.5 140v3M483.5 146v3M483.5 152v3M483.5 158v3M483.5 164v3M483.5 170v3M483.5 176v3M483.5 182v3M483.5 188v3M483.5 194v3M483.5 200v3M483.5 206v3M483.5 212v3M483.5 218v3M483.5 224v3M483.5 230v3M483.5 236v3M483.5 242v3M483.5 248v3M483.5 254v3M483.5 260v3M483.5 266v3M483.5 272v3M483.5 278v3M483.5 284v3M483.5 290v3M483.5 296v3" stroke="#778899" stroke-width="1" fill="none"/>
<path d="M515.5 3v2M515.5 8v3M515.5 14v3M515.5 20v3M515.5 26v3M515.5 32v3M515.5 38v3M515.5 44v3M515.5 50v3M515.5 56v3M515.5 62v3M515.5 68v3M515.5 74v3M515.5 80v3M515.5 86v3M515.5 92v3M515.5 98v3M515.5 104v3M515.5 110v3M515.5 116v3M515.5 122v3M515.5 128v3M515.5 134v3M515.5 140v3M515.5 146v3M515.5 152v3M515.5 158v3M515.5 164v3M515.5 170v3M515.5 176v3M515.5 182v3M515.5 188v3M515.5 194v3M515.5 200v3M515.5 206v3M515.5 212v3M515.5 218v3M515.5 224v3M515.5 230v3M515.5 236v3M515.5 242v3M515.5 248v3M515.5 254v3M515.5 260v3M515.5 266v3M515.5 272v3M515.5 278v3M515.5 284v3M515.5 290v3M515.5 296v3" stroke="#778899" stroke-width="1" fill="none"/>
<path d="M547.5 3v2M547.5 8v3M547.5 14v3M547.5 20v3M547.5 26v3M547.5 32v3M547.5 38v3M547.5 44v3M547.5 50v3M547.5 56v3M547.5 62v3M547.5 68v3M547.5 74v3M547.5 80v3M547.5 86v3M547.5 92v3M547.5 98v3M547.5 104v3M547.5 110v3M547.5 116v3M547.5 122v3M547.5 128v3M547.5 134v3M547.5 140v3M547.5 146v3M547.5 152v3M547.5 158v3M547.5 164v3M547.5 170v3M547.5 176v3M547.5 182v3M547.5 188v3M547.5 194v3M547.5 200v3M547.5 206v3M547.5 212v3M547.5 218v3M547.5 224v3M547.5 230v3M547.5 236v3M547.5 242v3M547.5 248v3M547.5 254v3M547.5 260v3M547.5 266v3M547.5 272v3M547.5 278v3M547.5 284v3M547.5 290v3M547.5 296v3" stroke="#778899" stroke-width="1" fill="none"/>
<path d="M579.5 3v2M579.5 8v3M579.5 14v3M579.5 20v3M579.5 26v3M579.5 32v3M579.5 38v3M579.5 44v3M579.5 50v3M579.5 56v3M579.5 62v3M579.5 68v3M579.5 74v3M579.5 80v3M579.5 86v3M579.5 92v3M579.5 98v3M579.5 104v3M579.5 110v3M579.5 116v3M579.5 122v3M579.5 128v3M579.5 134v3M579.5 140v3M579.5 146v3M579.5 152v3M579.5 158v3M579.5 164v3M579.5 170v3M579.5 176v3M579.5 182v3M579.5 188v3M579.5 194v3M579.5 200v3M579.5 206v3M579.5 212v3M579.5 218v3M579.5 224v3M579.5 230v3M579.5 236v3M579.5 242v3M579.5 248v3M579.5 254v3M579.5 260v3M579.5 266v3M579.5 272v3M579.5 278v3M579.5 284v3M579.5 290v3M579.5 296v3" stroke="#778899" stroke-width="1" fill="none"/>
<path d="M611.5 3v2M611.5 8v3M611.5 14v3M611.5 20v3M611.5 26v3M611.5 32v3M611.5 38v3M611.5 44v3M611.5 50v3M611.5 56v3M611.5 62v3M611.5 68v3M611.5 74v3M611.5 80v3M611.5 86v3M611.5 92v3M611.5 98v3M611.5 104v3M611.5 110v3M611.5 116v3M611.5 122v3M611.5 128v3M611.5 134v3M611.5 140v3M611.5 146v3M611.5 152v3M611.5 158v3M611.5 164v3M611.5 170v3M611.5 176v3M611.5 182v3M611.5 188v3M611.5 194v3M611.5 200v3M611.5 206v3M611.5 212v3M611.5 218v3M611.5 224v3M611.5 230v3M611.5 236v3M611.5 242v3M611.5 248v3M611.5 254v3M611.5 260v3M611.5 266v3M611.5 272v3M611.5 278v3M611.5 284v3M611.5 290v3M611.5 296v3" stroke="#778899" stroke-width="1" fill="none"/>
<path d="M643.5 3v2M643.5 8v3M643.5 14v3M643.5 20v3M643.5 26v3M643.5 32v3M643.5 38v3M643.5 44v3M643.5 50v3M643.5 56v3M643.5 62v3M643.5 68v3M643.5 74v3M643.5 80v3M643.5 86v3M643.5 92v3M643.5 98v3M643.5 104v3M643.5 110v3M643.5 116v3M643.5 122v3M643.5 128v3M643.5 134v3M643.5 140v3M643.5 146v3M643.5 152v3M643.5 158v3M643.5 164v3M643.5 170v3M643.5 176v3M643.5 182v3M643.5 188v3M643.5 194v3M643.5 200v3M643.5 206v3M643.5 212v3M643.5 218v3M643.5 224v3M643.5 230v3M643.5 236v3M643.5 242v3M643.5 248v3M643.5 254v3M643.5 260v3M643.5 266v3M643.5 272v3M643.5 278v3M643.5 284v3M643.5 290v3M643.5 296v3" stroke="#778899" stroke-width="1" fill="none"/>
<path d="M675.5 3v2M675.5 8v3M675.5 14v3M675.5 20v3M675.5 26v3M675.5 32v3M675.5 38v3M675.5 44v3M675.5 50v3M675.5 56v3M675.5 62v3M675.5 68v3M675.5 74v3M675.5 80v3M675.5 86v3M675.5 92v3M675.5 98v3M675.5 104v3M675.5 110v3M675.5 116v3M675.5 122v3M675.5 128v3M675.5 134v3M675.5 140v3M675.5 146v3M675.5 152v3M675.5 158v3M675.5 164v3M675.5 170v3M675.5 176v3M675.5 182v3M675.5 188v3M675.5 194v3M675.5 200v3M675.5 206v3M675.5 212v3M675.5 218v3M675.5 224v3M675.5 230v3M675.5 236v3M675.5 242v3M675.5 248v3M675.5 254v3M675.5 260v3M675.5 266v3M675.5 272v3M675.5 278v3M675.5 284v3M675.5 290v3M675.5 296v3" stroke="#778899" stroke-width="1" fill="none"/>
<path d="M707.5 3v2M707.5 8v3M707.5 14v3M707.5 20v3M707.5 26v3M707.5 32v3M707.5 38v3M707.5 44v3M707.5 50v3M707.5 56v3M707.5 62v3M707.5 68v3M707.5 74v3M707.5 80v3M707.5 86v3M707.5 92v3M707.5 98v3M707.5 104v3M707.5 110v3M707.5 116v3M707.5 122v3M707.5 128v3M707.5 134v3M707.5 140v3M707.5 146v3M707.5 152v3M707.5 158v3M707.5 164v3M707.5 170v3M707.5 176v3M707.5 182v3M707.5 188v3M707.5 194v3M707.5 200v3M707.5 206v3M707.5 212v3M707.5 218v3M707.5 224v3M707.5 230v3M707.5 236v3M707.5 242v3M707.5 248v3M707.5 254v3M707.5 260v3M707.5 266v3M707.5 272v3M707.5 278v3M707.5 284v3M707.5 290v3M707.5 296v3" stroke="#778899" stroke-width="1" fill="none"/>
<path d="M739.5 3v2M739.5 8v3M739.5 14v3M739.5 20v3M739.5 26v3M739.5 32v3M739.5 38v3M739.5 44v3M739.5 50v3M739.5 56v3M739.5 62v3M739.5 68v3M739.5 74v3M739.5 80v3M739.5 86v3M739.5 92v3M739.5 98v3M739.5 104v3M739.5 110v3M739.5 116v3M739.5 122v3M739.5 128v3M739.5 134v3M739.5 140v3M739.5 146v3M739.5 152v3M739.5 158v3M739.5 164v3M739.5 170v3M739.5 176v3M739.5 182v3M739.5 188v3M739.5 194v3M739.5 200v3M739.5 206v3M739.5 212v3M739.5 218v3M739.5 224v3M739.5 230v3M739.5 236v3M739.5 242v3M739.5 248v3M739.5 254v3M739.5 260v3M739.5 266v3M739.5 272v3M739.5 278v3M739.5 284v3M739.5 290v3M739.5 296v3" stroke="#778899" stroke-width="1" fill="none"/>
<path d="M771.5 3v2M771.5 8v3M771.5 14v3M771.5 20v3M771.5 26v3M771.5 32v3M771.5 38v3M771.5 44v3M771.5 50v3M771.5 56v3M771.5 62v3M771.5 68v3M771.5 74v3M771.5 80v3M771.5 86v3M771.5 92v3M771.5 98v3M771.5 104v3M771.5 110v3M771.5 116v3M771.5 122v3M771.5 128v3M771.5 134v3M771.5 140v3M771.5 146v3M771.5 152v3M771.5 158v3M771.5 164v3M771.5 170v3M771.5 176v3M771.5 182v3M771.5 188v3M771.5 194v3M771.5 200v3M771.5 206v3M771.5 212v3M771.5 218v3M771.5 224v3M771.5 230v3M771.5 236v3M771.5 242v3M771.5 248v3M771.5 254v3M771.5 260v3M771.5 266v3M771.5 272v3M771.5 278v3M771.5 284v3M771.5 290v3M771.5 296v3" stroke="#778899" stroke-width="1" fill="none"/>
<path d="M803.5 3v2M803.5 8v3M803.5 14v3M803.5 20v3M803.5 26v3M803.5 32v3M803.5 38v3M803.5 44v3M803.5 50v3M803.5 56v3M803.5 62v3M803.5 68v3M803.5 74v3M803.5 80v3M803.5 86v3M803.5 92v3M803.5 98v3M803.5 104v3M803.5 110v3M803.5 116v3M803.5 122v3M803.5 128v3M803.5 134v3M803.5 140v3M803.5 146v3M803.5 152v3M803.5 158v3M803.5 164v3M803.5 170v3M803.5 176v3M803.5 182v3M803.5 188v3M803.5 194v3M803.5 200v3M803.5 206v3M803.5 212v3M803.5 218v3M803.5 224v3M803.5 230v3M803.5 236v3M803.5 242v3M803.5 248v3M803.5 254v3M803.5 260v3M803.5 266v3M803.5 272v3M803.5 278v3M803.5 284v3M803.5 290v3M803.5 296v3" stroke="#778899" stroke-width="1" fill="none"/>
<path d="M835.5 3v2M835.5 8v3M835.5 14v3M835.5 20v3M835.5 26v3M835.5 32v3M835.5 38v3M835.5 44v3M835.5 50v3M835.5 56v3M835.5 62v3M835.5 68v3M835.5 74v3M835.5 80v3M835.5 86v3M835.5 92v3M835.5 98v3M835.5 104v3M835.5 110v3M835.5 116v3M835.5 122v3M835.5 128v3M835.5 134v3M835.5 140v3M835.5 146v3M835.5 152v3M835.5 158v3M835.5 164v3M835.5 170v3M835.5 176v3M835.5 182v3M835.5 188v3M835.5 194v3M835.5 200v3M835.5 206v3M835.5 212v3M835.5 218v3M835.5 224v3M835.5 230v3M835.5 236v3M835.5 242v3M835.5 248v3M835.5 254v3M835.5 260v3M835.5 266v3M835.5 272v3M835.5 278v3M835.5 284v3M835.5 290v3M835.5 296v3" stroke="#778899" stroke-width="1" fill="none"/>
<path d="M867.5 3v2M867.5 8v3M867.5 14v3M867.5 20v3M867.5 26v3M867.5 32v3M867.5 38v3M867.5 44v3M867.5 50v3M867.5 56v3M867.5 62v3M867.5 68v3M867.5 74v3M867.5 80v3M867.5 86v3M867.5 92v3M867.5 98v3M867.5 104v3M867.5 110v3M867.5 116v3M867.5 122v3M867.5 128v3M867.5 134v3M867.5 140v3M867.5 146v3M867.5 152v3M867.5 158v3M867.5 164v3M867.5 170v3M867.5 176v3M867.5 182v3M867.5 188v3M867.5 194v3M867.5 200v3M867.5 206v3M867.5 212v3M867.5 218v3M867.5 224v3M867.5 230v3M867.5 236v3M867.5 242v3M867.5 248v3M867.5 254v3M867.5 260v3M867.5 266v3M867.5 272v3M867.5 278v3M867.5 284v3M867.5 290v3M867.5 296v3" stroke="#778899" stroke-width="1" fill="none"/>
<path d="M899.5 3v2M899.5 8v3M899.5 14v3M899.5 20v3M899.5 26v3M899.5 32v3M899.5 38v3M899.5 44v3M899.5 50v3M899.5 56v3M899.5 62v3M899.5 68v3M899.5 74v3M899.5 80v3M899.5 86v3M899.5 92v3M899.5 98v3M899.5 104v3M899.5 110v3M899.5 116v3M899.5 122v3M899.5 128v3M899.5 134v3M899.5 140v3M899.5 146v3M899.5 152v3M899.5 158v3M899.5 164v3M899.5 170v3M899.5 176v3M899.5 182v3M899.5 188v3M899.5 194v3M899.5 200v3M899.5 206v3M899.5 212v3M899.5 218v3M899.5 224v3M899.5 230v3M899.5 236v3M899.5 242v3M899.5 248v3M899.5 254v3M899.5 260v3M899.5 266v3M899.5 272v3M899.5 278v3M899.5 284v3M899.5 290v3M899.5 296v3" stroke="#778899" stroke-width="1" fill="none"/>
<path d="M931.5 3v2M931.5 8v3M931.5 14v3M931.5 20v3M931.5 26v3M931.5 32v3M931.5 38v3M931.5 44v3M931.5 50v3M931.5 56v3M931.5 62v3M931.5 68v3M931.5 74v3M931.5 80v3M931.5 86v3M931.5 92v3M931.5 98v3M931.5 104v3M931.5 110v3M931.5 116v3M931.5 122v3M931.5 128v3M931.5 134v3M931.5 140v3M931.5 146v3M931.5 152v3M931.5 158v3M931.5 164v3M931.5 170v3M931.5 176v3M931.5 182v3M931.5 188v3M931.5 194v3M931.5 200v3M931.5 206v3M931.5 212v3M931.5 218v3M931.5 224v3M931.5 230v3M931.5 236v3M931.5 242v3M931.5 248v3M931.5 254v3M931.5 260v3M931.5 266v3M931.5 272v3M931.5 278v3M931.5 284v3M931.5 290v3M931.5 296v3" stroke="#778899" stroke-width="1" fill="none"/>
<path d="M963.5 3v2M963.5 8v3M963.5 14v3M963.5 20v3M963.5 26v3M963.5 32v3M963.5 38v3M963.5 44v3M963.5 50v3M963.5 56v3M963.5 62v3M963.5 68v3M963.5 74v3M963.5 80v3M963.5 86v3M963.5 92v3M963.5 98v3M963.5 104v3M963.5 110v3M963.5 116v3M963.5 122v3M963.5 128v3M963.5 134v3M963.5 140v3M963.5 146v3M963.5 152v3M963.5 158v3M963.5 164v3M963.5 170v3M963.5 176v3M963.5 182v3M963.5 188v3M963.5 194v3M963.5 200v3M963.5 206v3M963.5 212v3M963.5 218v3M963.5 224v3M963.5 230v3M963.5 236v3M963.5 242v3M963.5 248v3M963.5 254v3M963.5 260v3M963.5 266v3M963.5 272v3M963.5 278v3M963.5 284v3M963.5 290v3M963.5 296v3" stroke="#778899" stroke-width="1" fill="none"/>
<path d="M995.5 3v2M995.5 8v3M995.5 14v3M995.5 20v3M995.5 26v3M995.5 32v3M995.5 38v3M995.5 44v3M995.5 50v3M995.5 56v3M995.5 62v3M995.5 68v3M995.5 74v3M995.5 80v3M995.5 86v3M995.5 92v3M995.5 98v3M995.5 104v3M995.5 110v3M995.5 116v3M995.5 122v3M995.5 128v3M995.5 134v3M995.5 140v3M995.5 146v3M995.5 152v3M995.5 158v3M995.5 164v3M995.5 170v3M995.5 176v3M995.5 182v3M995.5 188v3M995.5 194v3M995.5 200v3M995.5 206v3M995.5 212v3M995.5 218v3M995.5 224v3M995.5 230v3M995.5 236v3M995.5 242v3M995.5 248v3M995.5 254v3M995.5 260v3M995.5 266v3M995.5 272v3M995.5 278v3M995.5 284v3M995.5 290v3M995.5 296v3" stroke="#778899" stroke-width="1" fill="none"/>
<path d="M1027.5 3v2M1027.5 8v3M1027.5 14v3M1027.5 20v3M1027.5 26v3M1027.5 32v3M1027.5 38v3M1027.5 44v3M1027.5 50v3M1027.5 56v3M1027.5 62v3M1027.5 68v3M1027.5 74v3M1027.5 80v3M1027.5 86v3M1027.5 92v3M1027.5 98v3M1027.5 104v3M1027.5 110v3M1027.5 116v3M1027.5 122v3M1027.5 128v3M1027.5 134v3M1027.5 140v3M1027.5 146v3M1027.5 152v3M1027.5 158v3M1027.5 164v3M1027.5 170v3M1027.5 176v3M1027.5 182v3M1027.5 188v3M1027.5 194v3M1027.5 200v3M1027.5 206v3M1027.5 212v3M1027.5 218v3M1027.5 224v3M1027.5 230v3M1027.5 236v3M1027.5 242v3M1027.5 248v3M1027.5 254v3M1027.5 260v3M1027.5 266v3M1027.5 272v3M1027.5 278v3M1027.5 284v3M1027.5 290v3M1027.5 296v3" stroke="#778899" stroke-width="1" fill="none"/>
<path d="M1059.5 3v2M1059.5 8v3M1059.5 14v3M1059.5 20v3M1059.5 26v3M1059.5 32v3M1059.5 38v3M1059.5 44v3M1059.5 50v3M1059.5 56v3M1059.5 62v3M1059.5 68v3M1059.5 74v3M1059.5 80v3M1059.5 86v3M1059.5 92v3M1059.5 98v3M1059.5 104v3M1059.5 110v3M1059.5 116v3M1059.5 122v3M1059.5 128v3M1059.5 134v3M1059.5 140v3M1059.5 146v3M1059.5 152v3M1059.5 158v3M1059.5 164v3M1059.5 170v3M1059.5 176v3M1059.5 182v3M1059.5 188v3M1059.5 194v3M1059.5 200v3M1059.5 206v3M1059.5 212v3M1059.5 218v3M1059.5 224v3M1059.5 230v3M1059.5 236v3M1059.5 242v3M1059.5 248v3M1059.5 254v3M1059.5 260v3M1059.5 266v3M1059.5 272v3M1059.5 278v3M1059.5 284v3M1059.5 290v3M1059.5 296v3" stroke="#778899" stroke-width="1" fill="none"/>
<path d="M1091.5 3v2M1091.5 8v3M1091.5 14v3M1091.5 20v3M1091.5 26v3M1091.5 32v3M1091.5 38v3M1091.5 44v3M1091.5 50v3M1091.5 56v3M1091.5 62v3M1091.5 68v3M1091.5 74v3M1091.5 80v3M1091.5 86v3M1091.5 92v3M1091.5 98v3M1091.5 104v3M1091.5 110v3M1091.5 116v3M1091.5 122v3M1091.5 128v3M1091.5 134v3M1091.5 140v3M1091.5 146v3M1091.5 152v3M1091.5 158v3M1091.5 164v3M1091.5 170v3M1091.5 176v3M1091.5 182v3M1091.5 188v3M1091.5 194v3M1091.5 200v3M1091.5 206v3M1091.5 212v3M1091.5 218v3M1091.5 224v3M1091.5 230v3M1091.5 236v3M1091.5 242v3M1091.5 248v3M1091.5 254v3M1091.5 260v3M1091.5 266v3M1091.5 272v3M1091.5 278v3M1091.5 284v3M1091.5 290v3M1091.5 296v3" stroke="#778899" stroke-width="1" fill="none"/>
<path d="M1123.5 3v2M1123.5 8v3M1123.5 14v3M1123.5 20v3M1123.5 26v3M1123.5 32v3M1123.5 38v3M1123.5 44v3M1123.5 50v3M1123.5 56v3M1123.5 62v3M1123.5 68v3M1123.5 74v3M1123.5 80v3M1123.5 86v3M1123.5 92v3M1123.5 98v3M1123.5 104v3M1123.5 110v3M1123.5 116v3M1123.5 122v3M1123.5 128v3M1123.5 134v3M1123.5 140v3M1123.5 146v3M1123.5 152v3M1123.5 158v3M1123.5 164v3M1123.5 170v3M1123.5 176v3M1123.5 182v3M1123.5 188v3M1123.5 194v3M1123.5 200v3M1123.5 206v3M1123.5 212v3M1123.5 218v3M1123.5 224v3M1123.5 230v3M1123.5 236v3M1123.5 242v3M1123.5 248v3M1123.5 254v3M1123.5 260v3M1123.5 266v3M1123.5 272v3M1123.5 278v3M1123.5 284v3M1123.5 290v3M1123.5 296v3" stroke="#778899" stroke-width="1" fill="none"/>
<path d="M1155.5 3v2M1155.5 8v3M1155.5 14v3M1155.5 20v3M1155.5 26v3M1155.5 32v3M1155.5 38v3M1155.5 44v3M1155.5 50v3M1155.5 56v3M1155.5 62v3M1155.5 68v3M1155.5 74v3M1155.5 80v3M1155.5 86v3M1155.5 92v3M1155.5 98v3M1155.5 104v3M1155.5 110v3M1155.5 116v3M1155.5 122v3M1155.5 128v3M1155.5 134v3M1155.5 140v3M1155.5 146v3M1155.5 152v3M1155.5 158v3M1155.5 164v3M1155.5 170v3M1155.5 176v3M1155.5 182v3M1155.5 188v3M1155.5 194v3M1155.5 200v3M1155.5 206v3M1155.5 212v3M1155.5 218v3M1155.5 224v3M1155.5 230v3M1155.5 236v3M1155.5 242v3M1155.5 248v3M1155.5 254v3M1155.5 260v3M1155.5 266v3M1155.5 272v3M1155.5 278v3M1155.5 284v3M1155.5 290v3M1155.5 296v3" stroke="#778899" stroke-width="1" fill="none"/>
<path d="M1187.5 3v2M1187.5 8v3M1187.5 14v3M1187.5 20v3M1187.5 26v3M1187.5 32v3M1187.5 38v3M1187.5 44v3M1187.5 50v3M1187.5 56v3M1187.5 62v3M1187.5 68v3M1187.5 74v3M1187.5 80v3M1187.5 86v3M1187.5 92v3M1187.5 98v3M1187.5 104v3M1187.5 110v3M1187.5 116v3M1187.5 122v3M1187.5 128v3M1187.5 134v3M1187.5 140v3M1187.5 146v3M1187.5 152v3M1187.5 158v3M1187.5 164v3M1187.5 170v3M1187.5 176v3M1187.5 182v3M1187.5 188v3M1187.5 194v3M1187.5 200v3M1187.5 206v3M1187.5 212v3M1187.5 218v3M1187.5 224v3M1187.5 230v3M1187.5 236v3M1187.5 242v3M1187.5 248v3M1187.5 254v3M1187.5 260v3M1187.5 266v3M1187.5 272v3M1187.5 278v3M1187.5 284v3M1187.5 290v3M1187.5 296v3" stroke="#778899" stroke-width="1" fill="none"/>
<path d="M1219.5 3v2M1219.5 8v3M1219.5 14v3M1219.5 20v3M1219.5 26v3M1219.5 32v3M1219.5 38v3M1219.5 44v3M1219.5 50v3M1219.5 56v3M1219.5 62v3M1219.5 68v3M1219.5 74v3M1219.5 80v3M1219.5 86v3M1219.5 92v3M1219.5 98v3M1219.5 104v3M1219.5 110v3M1219.5 116v3M1219.5 122v3M1219.5 128v3M1219.5 134v3M1219.5 140v3M1219.5 146v3M1219.5 152v3M1219.5 158v3M1219.5 164v3M1219.5 170v3M1219.5 176v3M1219.5 182v3M1219.5 188v3M1219.5 194v3M1219.5 200v3M1219.5 206v3M1219.5 212v3M1219.5 218v3M1219.5 224v3M1219.5 230v3M1219.5 236v3M1219.5 242v3M1219.5 248v3M1219.5 254v3M1219.5 260v3M1219.5 266v3M1219.5 272v3M1219.5 278v3M1219.5 284v3M1219.5 290v3M1219.5 296v3" stroke="#778899" stroke-width="1" fill="none"/>
<path d="M3 240.5H1228" stroke="#778899" stroke-width="1"/>
<rect x="2" y="25" width="2" height="83" fill="#ff0000"/>
<rect x="4" y="99" width="11" height="2" fill="#ff0000"/>
<rect x="34" y="63" width="2" height="60" fill="#00ff00"/>
<rect x="23" y="106" width="11" height="2" fill="#00ff00"/>
<rect x="36" y="85" width="11" height="2" fill="#00ff00"/>
<rect x="66" y="63" width="2" height="45" fill="#ff0000"/>
<rect x="55" y="78" width="11" height="2" fill="#ff0000"/>
<rect x="68" y="99" width="11" height="2" fill="#ff0000"/>
<rect x="98" y="63" width="2" height="38" fill="#00ff00"/>
<rect x="87" y="91" width="11" height="2" fill="#00ff00"/>
<rect x="100" y="85" width="11" height="2" fill="#00ff00"/>
<rect x="130" y="78" width="2" height="45" fill="#ff0000"/>
<rect x="119" y="78" width="11" height="2" fill="#ff0000"/>
<rect x="132" y="106" width="11" height="2" fill="#ff0000"/>
<rect x="162" y="115" width="2" height="52" fill="#ff0000"/>
<rect x="151" y="115" width="11" height="2" fill="#ff0000"/>
<rect x="164" y="136" width="11" height="2" fill="#ff0000"/>
<rect x="194" y="122" width="2" height="38" fill="#ff0000"/>
<rect x="183" y="144" width="11" height="2" fill="#ff0000"/>
<rect x="196" y="150" width="11" height="2" fill="#ff0000"/>
<rect x="226" y="144" width="2" height="53" fill="#ff0000"/>
<rect x="215" y="159" width="11" height="2" fill="#ff0000"/>
<rect x="228" y="188" width="11" height="2" fill="#ff0000"/>
<rect x="258" y="166" width="2" height="90" fill="#ff0000"/>
<rect x="247" y="196" width="11" height="2" fill="#ff0000"/>
<rect x="260" y="210" width="11" height="2" fill="#ff0000"/>
<rect x="290" y="196" width="2" height="38" fill="#ff0000"/>
<rect x="279" y="218" width="11" height="2" fill="#ff0000"/>
<rect x="292" y="232" width="11" height="2" fill="#ff0000"/>
<rect x="322" y="151" width="2" height="83" fill="#00ff00"/>
<rect x="311" y="225" width="11" height="2" fill="#00ff00"/>
<rect x="324" y="166" width="11" height="2" fill="#00ff00"/>
<rect x="354" y="159" width="2" height="23" fill="#00ff00"/>
<rect x="343" y="173" width="11" height="2" fill="#00ff00"/>
<rect x="356" y="166" width="11" height="2" fill="#00ff00"/>
<rect x="386" y="137" width="2" height="23" fill="#00ff00"/>
<rect x="375" y="158" width="11" height="2" fill="#00ff00"/>
<rect x="388" y="151" width="11" height="2" fill="#00ff00"/>
<rect x="418" y="129" width="2" height="38" fill="#00ff00"/>
<rect x="407" y="158" width="11" height="2" fill="#00ff00"/>
<rect x="420" y="137" width="11" height="2" fill="#00ff00"/>
<rect x="450" y="129" width="2" height="46" fill="#ff0000"/>
<rect x="439" y="129" width="11" height="2" fill="#ff0000"/>
<rect x="452" y="136" width="11" height="2" fill="#ff0000"/>
<rect x="482" y="129" width="2" height="16" fill="#00ff00"/>
<rect x="471" y="143" width="11" height="2" fill="#00ff00"/>
<rect x="484" y="143" width="11" height="2" fill="#00ff00"/>
<rect x="514" y="115" width="2" height="37" fill="#00ff00"/>
<rect x="503" y="150" width="11" height="2" fill="#00ff00"/>
<rect x="516" y="129" width="11" height="2" fill="#00ff00"/>
<rect x="546" y="115" width="2" height="15" fill="#00ff00"/>
<rect x="535" y="121" width="11" height="2" fill="#00ff00"/>
<rect x="548" y="121" width="11" height="2" fill="#00ff00"/>
<rect x="578" y="115" width="2" height="52" fill="#ff0000"/>
<rect x="567" y="115" width="11" height="2" fill="#ff0000"/>
<rect x="580" y="158" width="11" height="2" fill="#ff0000"/>
<rect x="610" y="151" width="2" height="31" fill="#ff0000"/>
<rect x="599" y="151" width="11" height="2" fill="#ff0000"/>
<rect x="612" y="165" width="11" height="2" fill="#ff0000"/>
<rect x="642" y="159" width="2" height="31" fill="#00ff00"/>
<rect x="631" y="173" width="11" height="2" fill="#00ff00"/>
<rect x="644" y="159" width="11" height="2" fill="#00ff00"/>
<rect x="674" y="152" width="2" height="30" fill="#00ff00"/>
<rect x="663" y="165" width="11" height="2" fill="#00ff00"/>
<rect x="676" y="152" width="11" height="2" fill="#00ff00"/>
<rect x="706" y="151" width="2" height="46" fill="#ff0000"/>
<rect x="695" y="159" width="11" height="2" fill="#ff0000"/>
<rect x="708" y="188" width="11" height="2" fill="#ff0000"/>
<rect x="738" y="174" width="2" height="23" fill="#00ff00"/>
<rect x="727" y="180" width="11" height="2" fill="#00ff00"/>
<rect x="740" y="174" width="11" height="2" fill="#00ff00"/>
<rect x="770" y="137" width="2" height="30" fill="#00ff00"/>
<rect x="759" y="165" width="11" height="2" fill="#00ff00"/>
<rect x="772" y="144" width="11" height="2" fill="#00ff00"/>
<rect x="802" y="129" width="2" height="46" fill="#ff0000"/>
<rect x="791" y="151" width="11" height="2" fill="#ff0000"/>
<rect x="804" y="158" width="11" height="2" fill="#ff0000"/>
<rect x="834" y="144" width="2" height="75" fill="#ff0000"/>
<rect x="823" y="151" width="11" height="2" fill="#ff0000"/>
<rect x="836" y="217" width="11" height="2" fill="#ff0000"/>
<rect x="866" y="166" width="2" height="53" fill="#ff0000"/>
<rect x="855" y="211" width="11" height="2" fill="#ff0000"/>
<rect x="868" y="217" width="11" height="2" fill="#ff0000"/>
<rect x="898" y="196" width="2" height="38" fill="#ff0000"/>
<rect x="887" y="211" width="11" height="2" fill="#ff0000"/>
<rect x="900" y="217" width="11" height="2" fill="#ff0000"/>
<rect x="930" y="196" width="2" height="45" fill="#ff0000"/>
<rect x="919" y="211" width="11" height="2" fill="#ff0000"/>
<rect x="932" y="239" width="11" height="2" fill="#ff0000"/>
<rect x="962" y="233" width="2" height="23" fill="#00ff00"/>
<rect x="951" y="247" width="11" height="2" fill="#00ff00"/>
<rect x="964" y="233" width="11" height="2" fill="#00ff00"/>
<rect x="994" y="233" width="2" height="16" fill="#00ff00"/>
<rect x="983" y="239" width="11" height="2" fill="#00ff00"/>
<rect x="996" y="239" width="11" height="2" fill="#00ff00"/>
<path d="M3.5 23.8L400.5 -2.6" stroke="#ffd700" stroke-width="1" stroke-dasharray="3 3" fill="none"/>
<path d="M715.5 300.1L1228.5 268.7" stroke="#ffd700" stroke-width="1" stroke-dasharray="3 3" fill="none"/>
<path d="M3 60.5h3M9 60.5h3M15 60.5h3M21 60.5h3M27 60.5h3M33 60.5h3M39 60.5h3M45 60.5h3M51 60.5h3M57 60.5h3M63 60.5h3M69 60.5h3M75 60.5h3M81 60.5h3M87 60.5h3M93 60.5h3M99 60.5h3M105 60.5h3M111 60.5h3M117 60.5h3M123 60.5h3M129 60.5h3M135 60.5h3M141 60.5h3M147 60.5h3M153 60.5h3" stroke="#0000ff" stroke-width="1" fill="none"/>
<path d="M159 61.5h3M165 61.5h3M171 61.5h3M177 61.5h3M183 61.5h3M189 61.5h3M195 61.5h3M201 61.5h3M207 61.5h3M213 61.5h3M219 61.5h3M225 61.5h3M231 61.5h3M237 61.5h3M243 61.5h3M249 61.5h3M255 61.5h3M261 61.5h3M267 61.5h3M273 61.5h3M279 61.5h3M285 61.5h3M291 61.5h3M297 61.5h3M303 61.5h3M309 61.5h3M315 61.5h3M321 61.5h3M327 61.5h3M333 61.5h3M339 61.5h3M345 61.5h3M351 61.5h3M357 61.5h3M363 61.5h3M369 61.5h3M375 61.5h3M381 61.5h3M387 61.5h3M393 61.5h3M399 61.5h3M405 61.5h3M411 61.5h3M417 61.5h3M423 61.5h3M429 61.5h3M435 61.5h3M441 61.5h3M447 61.5h3M453 61.5h3M459 61.5h3" stroke="#0000ff" stroke-width="1" fill="none"/>
<path d="M465 62.5h3M471 62.5h3M477 62.5h3M483 62.5h3M489 62.5h3M495 62.5h3M501 62.5h3M507 62.5h3M513 62.5h3M519 62.5h3M525 62.5h3M531 62.5h3M537 62.5h3M543 62.5h3M549 62.5h3M555 62.5h3M561 62.5h3M567 62.5h3M573 62.5h3M579 62.5h3M585 62.5h3M591 62.5h3M597 62.5h3M603 62.5h3M609 62.5h3M615 62.5h3M621 62.5h3M627 62.5h3M633 62.5h3M639 62.5h3M645 62.5h3M651 62.5h3M657 62.5h3M663 62.5h3M669 62.5h3M675 62.5h3M681 62.5h3M687 62.5h3M693 62.5h3M699 62.5h3M705 62.5h3M711 62.5h3M717 62.5h3M723 62.5h3M729 62.5h3M735 62.5h3M741 62.5h3M747 62.5h3M753 62.5h3M759 62.5h3M765 62.5h3" stroke="#0000ff" stroke-width="1" fill="none"/>
<path d="M771 63.5h3M777 63.5h3M783 63.5h3M789 63.5h3M795 63.5h3M801 63.5h3M807 63.5h3M813 63.5h3M819 63.5h3M825 63.5h3M831 63.5h3M837 63.5h3M843 63.5h3M849 63.5h3M855 63.5h3M861 63.5h3M867 63.5h3M873 63.5h3M879 63.5h3M885 63.5h3M891 63.5h3M897 63.5h3M903 63.5h3M909 63.5h3M915 63.5h3M921 63.5h3M927 63.5h3M933 63.5h3M939 63.5h3M945 63.5h3M951 63.5h3M957 63.5h3M963 63.5h3M969 63.5h3M975 63.5h3M981 63.5h3M987 63.5h3M993 63.5h3M999 63.5h3M1005 63.5h3M1011 63.5h3M1017 63.5h3M1023 63.5h3M1029 63.5h3M1035 63.5h3M1041 63.5h3M1047 63.5h3M1053 63.5h3M1059 63.5h3M1065 63.5h3M1071 63.5h3" stroke="#0000ff" stroke-width="1" fill="none"/>
<path d="M1077 64.5h3M1083 64.5h3M1089 64.5h3M1095 64.5h3M1101 64.5h3M1107 64.5h3M1113 64.5h3M1119 64.5h3M1125 64.5h3M1131 64.5h3M1137 64.5h3M1143 64.5h3M1149 64.5h3M1155 64.5h3M1161 64.5h3M1167 64.5h3M1173 64.5h3M1179 64.5h3M1185 64.5h3M1191 64.5h3M1197 64.5h3M1203 64.5h3M1209 64.5h3M1215 64.5h3M1221 64.5h3M1227 64.5h1" stroke="#0000ff" stroke-width="1" fill="none"/>
<path d="M3.50 89.00 L35.50 81.00 L67.50 73.00 L99.50 65.60 L131.50 70.10 L163.50 74.50 L195.50 79.70 L227.50 86.50 L259.50 93.90 L291.50 102.20 L323.50 106.50 L355.50 110.10 L387.50 110.50 L419.50 115.10 L451.50 118.70 L483.50 122.50 L515.50 128.80 L547.50 133.80 L579.50 139.10 L611.50 144.30 L643.50 148.00 L675.50 150.80 L707.50 155.20 L739.50 159.90 L771.50 161.70 L803.50 162.50 L835.50 166.00 L867.50 167.50 L899.50 167.90 L931.50 167.90 L963.50 171.70 L995.50 174.90" stroke="#dc143c" stroke-width="1" fill="none"/>
<path d="M3.50 230.50 L35.50 209.90 L67.50 174.10 L99.50 126.50 L131.50 132.10 L163.50 140.50 L195.50 153.00 L227.50 172.90 L259.50 195.40 L291.50 217.30 L323.50 225.50 L355.50 231.50 L387.50 231.50 L419.50 233.50 L451.50 236.00 L483.50 238.20 L515.50 233.50 L547.50 226.00 L579.50 223.30 L611.50 220.70 L643.50 222.00 L675.50 218.30 L707.50 222.00 L739.50 218.30 L771.50 215.80 L803.50 215.80 L835.50 223.50 L867.50 228.50 L899.50 230.20 L931.50 232.70 L963.50 241.50 L995.50 251.50" stroke="#dc143c" stroke-width="1" fill="none"/>
<path d="M67.50 -11.50 L99.50 3.50 L131.50 7.50 L163.50 10.00 L195.50 8.40 L227.50 -1.00 L259.50 -11.50" stroke="#dc143c" stroke-width="1" fill="none"/>
<path d="M419.50 -13.50 L451.50 2.50 L483.50 9.20 L515.50 24.70 L547.50 40.40 L579.50 54.10 L611.50 67.80 L643.50 74.00 L675.50 82.70 L707.50 88.20 L739.50 101.40 L771.50 108.10 L803.50 109.60 L835.50 107.70 L867.50 105.70 L899.50 104.90 L931.50 103.50 L963.50 101.50 L995.50 99.00" stroke="#dc143c" stroke-width="1" fill="none"/>
<path d="M3.50 67.00 L35.50 70.30 L67.50 76.30 L99.50 79.00 L131.50 84.70 L163.50 93.90 L195.50 106.10 L227.50 123.50 L259.50 141.50 L291.50 159.20 L323.50 161.00 L355.50 161.70 L387.50 159.50 L419.50 155.70 L451.50 151.80 L483.50 150.00 L515.50 146.30 L547.50 141.50 L579.50 145.70 L611.50 149.90 L643.50 151.70 L675.50 151.70 L707.50 159.60 L739.50 163.20 L771.50 158.80 L803.50 158.80 L835.50 171.00 L867.50 180.50 L899.50 187.90 L931.50 197.50 L963.50 205.80 L995.50 212.80" stroke="#ffffff" stroke-width="1" fill="none"/>
<path d="M3.5 186.8L1185.5 3.5" stroke="#00ff00" stroke-width="1" fill="none"/>
<rect x="2.5" y="184.5" width="3" height="4" fill="none" stroke="#fff" stroke-width="1"/>
<rect x="1183.5" y="1.5" width="4" height="4" fill="none" stroke="#fff" stroke-width="1"/>
</g>
<g clip-path="url(#cs)">
<path d="M35.5 303v2M35.5 308v3M35.5 314v3M35.5 320v3M35.5 326v3M35.5 332v3M35.5 338v3M35.5 344v3M35.5 350v3M35.5 356v3M35.5 362v3M35.5 368v3M35.5 374v3M35.5 380v3M35.5 386v3M35.5 392v3M35.5 398v3M35.5 404v3M35.5 410v3M35.5 416v3M35.5 422v3M35.5 428v3M35.5 434v3M35.5 440v3M35.5 446v3M35.5 452v3M35.5 458v3M35.5 464v3M35.5 470v3M35.5 476v3M35.5 482v3M35.5 488v3M35.5 494v3M35.5 500v3" stroke="#778899" stroke-width="1" fill="none"/>
<path d="M67.5 303v2M67.5 308v3M67.5 314v3M67.5 320v3M67.5 326v3M67.5 332v3M67.5 338v3M67.5 344v3M67.5 350v3M67.5 356v3M67.5 362v3M67.5 368v3M67.5 374v3M67.5 380v3M67.5 386v3M67.5 392v3M67.5 398v3M67.5 404v3M67.5 410v3M67.5 416v3M67.5 422v3M67.5 428v3M67.5 434v3M67.5 440v3M67.5 446v3M67.5 452v3M67.5 458v3M67.5 464v3M67.5 470v3M67.5 476v3M67.5 482v3M67.5 488v3M67.5 494v3M67.5 500v3" stroke="#778899" stroke-width="1" fill="none"/>
<path d="M99.5 303v2M99.5 308v3M99.5 314v3M99.5 320v3M99.5 326v3M99.5 332v3M99.5 338v3M99.5 344v3M99.5 350v3M99.5 356v3M99.5 362v3M99.5 368v3M99.5 374v3M99.5 380v3M99.5 386v3M99.5 392v3M99.5 398v3M99.5 404v3M99.5 410v3M99.5 416v3M99.5 422v3M99.5 428v3M99.5 434v3M99.5 440v3M99.5 446v3M99.5 452v3M99.5 458v3M99.5 464v3M99.5 470v3M99.5 476v3M99.5 482v3M99.5 488v3M99.5 494v3M99.5 500v3" stroke="#778899" stroke-width="1" fill="none"/>
<path d="M131.5 303v2M131.5 308v3M131.5 314v3M131.5 320v3M131.5 326v3M131.5 332v3M131.5 338v3M131.5 344v3M131.5 350v3M131.5 356v3M131.5 362v3M131.5 368v3M131.5 374v3M131.5 380v3M131.5 386v3M131.5 392v3M131.5 398v3M131.5 404v3M131.5 410v3M131.5 416v3M131.5 422v3M131.5 428v3M131.5 434v3M131.5 440v3M131.5 446v3M131.5 452v3M131.5 458v3M131.5 464v3M131.5 470v3M131.5 476v3M131.5 482v3M131.5 488v3M131.5 494v3M131.5 500v3" stroke="#778899" stroke-width="1" fill="none"/>
<path d="M163.5 303v2M163.5 308v3M163.5 314v3M163.5 320v3M163.5 326v3M163.5 332v3M163.5 338v3M163.5 344v3M163.5 350v3M163.5 356v3M163.5 362v3M163.5 368v3M163.5 374v3M163.5 380v3M163.5 386v3M163.5 392v3M163.5 398v3M163.5 404v3M163.5 410v3M163.5 416v3M163.5 422v3M163.5 428v3M163.5 434v3M163.5 440v3M163.5 446v3M163.5 452v3M163.5 458v3M163.5 464v3M163.5 470v3M163.5 476v3M163.5 482v3M163.5 488v3M163.5 494v3M163.5 500v3" stroke="#778899" stroke-width="1" fill="none"/>
<path d="M195.5 303v2M195.5 308v3M195.5 314v3M195.5 320v3M195.5 326v3M195.5 332v3M195.5 338v3M195.5 344v3M195.5 350v3M195.5 356v3M195.5 362v3M195.5 368v3M195.5 374v3M195.5 380v3M195.5 386v3M195.5 392v3M195.5 398v3M195.5 404v3M195.5 410v3M195.5 416v3M195.5 422v3M195.5 428v3M195.5 434v3M195.5 440v3M195.5 446v3M195.5 452v3M195.5 458v3M195.5 464v3M195.5 470v3M195.5 476v3M195.5 482v3M195.5 488v3M195.5 494v3M195.5 500v3" stroke="#778899" stroke-width="1" fill="none"/>
<path d="M227.5 303v2M227.5 308v3M227.5 314v3M227.5 320v3M227.5 326v3M227.5 332v3M227.5 338v3M227.5 344v3M227.5 350v3M227.5 356v3M227.5 362v3M227.5 368v3M227.5 374v3M227.5 380v3M227.5 386v3M227.5 392v3M227.5 398v3M227.5 404v3M227.5 410v3M227.5 416v3M227.5 422v3M227.5 428v3M227.5 434v3M227.5 440v3M227.5 446v3M227.5 452v3M227.5 458v3M227.5 464v3M227.5 470v3M227.5 476v3M227.5 482v3M227.5 488v3M227.5 494v3M227.5 500v3" stroke="#778899" stroke-width="1" fill="none"/>
<path d="M259.5 303v2M259.5 308v3M259.5 314v3M259.5 320v3M259.5 326v3M259.5 332v3M259.5 338v3M259.5 344v3M259.5 350v3M259.5 356v3M259.5 362v3M259.5 368v3M259.5 374v3M259.5 380v3M259.5 386v3M259.5 392v3M259.5 398v3M259.5 404v3M259.5 410v3M259.5 416v3M259.5 422v3M259.5 428v3M259.5 434v3M259.5 440v3M259.5 446v3M259.5 452v3M259.5 458v3M259.5 464v3M259.5 470v3M259.5 476v3M259.5 482v3M259.5 488v3M259.5 494v3M259.5 500v3" stroke="#778899" stroke-width="1" fill="none"/>
<path d="M291.5 303v2M291.5 308v3M291.5 314v3M291.5 320v3M291.5 326v3M291.5 332v3M291.5 338v3M291.5 344v3M291.5 350v3M291.5 356v3M291.5 362v3M291.5 368v3M291.5 374v3M291.5 380v3M291.5 386v3M291.5 392v3M291.5 398v3M291.5 404v3M291.5 410v3M291.5 416v3M291.5 422v3M291.5 428v3M291.5 434v3M291.5 440v3M291.5 446v3M291.5 452v3M291.5 458v3M291.5 464v3M291.5 470v3M291.5 476v3M291.5 482v3M291.5 488v3M291.5 494v3M291.5 500v3" stroke="#778899" stroke-width="1" fill="none"/>
<path d="M323.5 303v2M323.5 308v3M323.5 314v3M323.5 320v3M323.5 326v3M323.5 332v3M323.5 338v3M323.5 344v3M323.5 350v3M323.5 356v3M323.5 362v3M323.5 368v3M323.5 374v3M323.5 380v3M323.5 386v3M323.5 392v3M323.5 398v3M323.5 404v3M323.5 410v3M323.5 416v3M323.5 422v3M323.5 428v3M323.5 434v3M323.5 440v3M323.5 446v3M323.5 452v3M323.5 458v3M323.5 464v3M323.5 470v3M323.5 476v3M323.5 482v3M323.5 488v3M323.5 494v3M323.5 500v3" stroke="#778899" stroke-width="1" fill="none"/>
<path d="M355.5 303v2M355.5 308v3M355.5 314v3M355.5 320v3M355.5 326v3M355.5 332v3M355.5 338v3M355.5 344v3M355.5 350v3M355.5 356v3M355.5 362v3M355.5 368v3M355.5 374v3M355.5 380v3M355.5 386v3M355.5 392v3M355.5 398v3M355.5 404v3M355.5 410v3M355.5 416v3M355.5 422v3M355.5 428v3M355.5 434v3M355.5 440v3M355.5 446v3M355.5 452v3M355.5 458v3M355.5 464v3M355.5 470v3M355.5 476v3M355.5 482v3M355.5 488v3M355.5 494v3M355.5 500v3" stroke="#778899" stroke-width="1" fill="none"/>
<path d="M387.5 303v2M387.5 308v3M387.5 314v3M387.5 320v3M387.5 326v3M387.5 332v3M387.5 338v3M387.5 344v3M387.5 350v3M387.5 356v3M387.5 362v3M387.5 368v3M387.5 374v3M387.5 380v3M387.5 386v3M387.5 392v3M387.5 398v3M387.5 404v3M387.5 410v3M387.5 416v3M387.5 422v3M387.5 428v3M387.5 434v3M387.5 440v3M387.5 446v3M387.5 452v3M387.5 458v3M387.5 464v3M387.5 470v3M387.5 476v3M387.5 482v3M387.5 488v3M387.5 494v3M387.5 500v3" stroke="#778899" stroke-width="1" fill="none"/>
<path d="M419.5 303v2M419.5 308v3M419.5 314v3M419.5 320v3M419.5 326v3M419.5 332v3M419.5 338v3M419.5 344v3M419.5 350v3M419.5 356v3M419.5 362v3M419.5 368v3M419.5 374v3M419.5 380v3M419.5 386v3M419.5 392v3M419.5 398v3M419.5 404v3M419.5 410v3M419.5 416v3M419.5 422v3M419.5 428v3M419.5 434v3M419.5 440v3M419.5 446v3M419.5 452v3M419.5 458v3M419.5 464v3M419.5 470v3M419.5 476v3M419.5 482v3M419.5 488v3M419.5 494v3M419.5 500v3" stroke="#778899" stroke-width="1" fill="none"/>
<path d="M451.5 303v2M451.5 308v3M451.5 314v3M451.5 320v3M451.5 326v3M451.5 332v3M451.5 338v3M451.5 344v3M451.5 350v3M451.5 356v3M451.5 362v3M451.5 368v3M451.5 374v3M451.5 380v3M451.5 386v3M451.5 392v3M451.5 398v3M451.5 404v3M451.5 410v3M451.5 416v3M451.5 422v3M451.5 428v3M451.5 434v3M451.5 440v3M451.5 446v3M451.5 452v3M451.5 458v3M451.5 464v3M451.5 470v3M451.5 476v3M451.5 482v3M451.5 488v3M451.5 494v3M451.5 500v3" stroke="#778899" stroke-width="1" fill="none"/>
<path d="M483.5 303v2M483.5 308v3M483.5 314v3M483.5 320v3M483.5 326v3M483.5 332v3M483.5 338v3M483.5 344v3M483.5 350v3M483.5 356v3M483.5 362v3M483.5 368v3M483.5 374v3M483.5 380v3M483.5 386v3M483.5 392v3M483.5 398v3M483.5 404v3M483.5 410v3M483.5 416v3M483.5 422v3M483.5 428v3M483.5 434v3M483.5 440v3M483.5 446v3M483.5 452v3M483.5 458v3M483.5 464v3M483.5 470v3M483.5 476v3M483.5 482v3M483.5 488v3M483.5 494v3M483.5 500v3" stroke="#778899" stroke-width="1" fill="none"/>
<path d="M515.5 303v2M515.5 308v3M515.5 314v3M515.5 320v3M515.5 326v3M515.5 332v3M515.5 338v3M515.5 344v3M515.5 350v3M515.5 356v3M515.5 362v3M515.5 368v3M515.5 374v3M515.5 380v3M515.5 386v3M515.5 392v3M515.5 398v3M515.5 404v3M515.5 410v3M515.5 416v3M515.5 422v3M515.5 428v3M515.5 434v3M515.5 440v3M515.5 446v3M515.5 452v3M515.5 458v3M515.5 464v3M515.5 470v3M515.5 476v3M515.5 482v3M515.5 488v3M515.5 494v3M515.5 500v3" stroke="#778899" stroke-width="1" fill="none"/>
<path d="M547.5 303v2M547.5 308v3M547.5 314v3M547.5 320v3M547.5 326v3M547.5 332v3M547.5 338v3M547.5 344v3M547.5 350v3M547.5 356v3M547.5 362v3M547.5 368v3M547.5 374v3M547.5 380v3M547.5 386v3M547.5 392v3M547.5 398v3M547.5 404v3M547.5 410v3M547.5 416v3M547.5 422v3M547.5 428v3M547.5 434v3M547.5 440v3M547.5 446v3M547.5 452v3M547.5 458v3M547.5 464v3M547.5 470v3M547.5 476v3M547.5 482v3M547.5 488v3M547.5 494v3M547.5 500v3" stroke="#778899" stroke-width="1" fill="none"/>
<path d="M579.5 303v2M579.5 308v3M579.5 314v3M579.5 320v3M579.5 326v3M579.5 332v3M579.5 338v3M579.5 344v3M579.5 350v3M579.5 356v3M579.5 362v3M579.5 368v3M579.5 374v3M579.5 380v3M579.5 386v3M579.5 392v3M579.5 398v3M579.5 404v3M579.5 410v3M579.5 416v3M579.5 422v3M579.5 428v3M579.5 434v3M579.5 440v3M579.5 446v3M579.5 452v3M579.5 458v3M579.5 464v3M579.5 470v3M579.5 476v3M579.5 482v3M579.5 488v3M579.5 494v3M579.5 500v3" stroke="#778899" stroke-width="1" fill="none"/>
<path d="M611.5 303v2M611.5 308v3M611.5 314v3M611.5 320v3M611.5 326v3M611.5 332v3M611.5 338v3M611.5 344v3M611.5 350v3M611.5 356v3M611.5 362v3M611.5 368v3M611.5 374v3M611.5 380v3M611.5 386v3M611.5 392v3M611.5 398v3M611.5 404v3M611.5 410v3M611.5 416v3M611.5 422v3M611.5 428v3M611.5 434v3M611.5 440v3M611.5 446v3M611.5 452v3M611.5 458v3M611.5 464v3M611.5 470v3M611.5 476v3M611.5 482v3M611.5 488v3M611.5 494v3M611.5 500v3" stroke="#778899" stroke-width="1" fill="none"/>
<path d="M643.5 303v2M643.5 308v3M643.5 314v3M643.5 320v3M643.5 326v3M643.5 332v3M643.5 338v3M643.5 344v3M643.5 350v3M643.5 356v3M643.5 362v3M643.5 368v3M643.5 374v3M643.5 380v3M643.5 386v3M643.5 392v3M643.5 398v3M643.5 404v3M643.5 410v3M643.5 416v3M643.5 422v3M643.5 428v3M643.5 434v3M643.5 440v3M643.5 446v3M643.5 452v3M643.5 458v3M643.5 464v3M643.5 470v3M643.5 476v3M643.5 482v3M643.5 488v3M643.5 494v3M643.5 500v3" stroke="#778899" stroke-width="1" fill="none"/>
<path d="M675.5 303v2M675.5 308v3M675.5 314v3M675.5 320v3M675.5 326v3M675.5 332v3M675.5 338v3M675.5 344v3M675.5 350v3M675.5 356v3M675.5 362v3M675.5 368v3M675.5 374v3M675.5 380v3M675.5 386v3M675.5 392v3M675.5 398v3M675.5 404v3M675.5 410v3M675.5 416v3M675.5 422v3M675.5 428v3M675.5 434v3M675.5 440v3M675.5 446v3M675.5 452v3M675.5 458v3M675.5 464v3M675.5 470v3M675.5 476v3M675.5 482v3M675.5 488v3M675.5 494v3M675.5 500v3" stroke="#778899" stroke-width="1" fill="none"/>
<path d="M707.5 303v2M707.5 308v3M707.5 314v3M707.5 320v3M707.5 326v3M707.5 332v3M707.5 338v3M707.5 344v3M707.5 350v3M707.5 356v3M707.5 362v3M707.5 368v3M707.5 374v3M707.5 380v3M707.5 386v3M707.5 392v3M707.5 398v3M707.5 404v3M707.5 410v3M707.5 416v3M707.5 422v3M707.5 428v3M707.5 434v3M707.5 440v3M707.5 446v3M707.5 452v3M707.5 458v3M707.5 464v3M707.5 470v3M707.5 476v3M707.5 482v3M707.5 488v3M707.5 494v3M707.5 500v3" stroke="#778899" stroke-width="1" fill="none"/>
<path d="M739.5 303v2M739.5 308v3M739.5 314v3M739.5 320v3M739.5 326v3M739.5 332v3M739.5 338v3M739.5 344v3M739.5 350v3M739.5 356v3M739.5 362v3M739.5 368v3M739.5 374v3M739.5 380v3M739.5 386v3M739.5 392v3M739.5 398v3M739.5 404v3M739.5 410v3M739.5 416v3M739.5 422v3M739.5 428v3M739.5 434v3M739.5 440v3M739.5 446v3M739.5 452v3M739.5 458v3M739.5 464v3M739.5 470v3M739.5 476v3M739.5 482v3M739.5 488v3M739.5 494v3M739.5 500v3" stroke="#778899" stroke-width="1" fill="none"/>
<path d="M771.5 303v2M771.5 308v3M771.5 314v3M771.5 320v3M771.5 326v3M771.5 332v3M771.5 338v3M771.5 344v3M771.5 350v3M771.5 356v3M771.5 362v3M771.5 368v3M771.5 374v3M771.5 380v3M771.5 386v3M771.5 392v3M771.5 398v3M771.5 404v3M771.5 410v3M771.5 416v3M771.5 422v3M771.5 428v3M771.5 434v3M771.5 440v3M771.5 446v3M771.5 452v3M771.5 458v3M771.5 464v3M771.5 470v3M771.5 476v3M771.5 482v3M771.5 488v3M771.5 494v3M771.5 500v3" stroke="#778899" stroke-width="1" fill="none"/>
<path d="M803.5 303v2M803.5 308v3M803.5 314v3M803.5 320v3M803.5 326v3M803.5 332v3M803.5 338v3M803.5 344v3M803.5 350v3M803.5 356v3M803.5 362v3M803.5 368v3M803.5 374v3M803.5 380v3M803.5 386v3M803.5 392v3M803.5 398v3M803.5 404v3M803.5 410v3M803.5 416v3M803.5 422v3M803.5 428v3M803.5 434v3M803.5 440v3M803.5 446v3M803.5 452v3M803.5 458v3M803.5 464v3M803.5 470v3M803.5 476v3M803.5 482v3M803.5 488v3M803.5 494v3M803.5 500v3" stroke="#778899" stroke-width="1" fill="none"/>
<path d="M835.5 303v2M835.5 308v3M835.5 314v3M835.5 320v3M835.5 326v3M835.5 332v3M835.5 338v3M835.5 344v3M835.5 350v3M835.5 356v3M835.5 362v3M835.5 368v3M835.5 374v3M835.5 380v3M835.5 386v3M835.5 392v3M835.5 398v3M835.5 404v3M835.5 410v3M835.5 416v3M835.5 422v3M835.5 428v3M835.5 434v3M835.5 440v3M835.5 446v3M835.5 452v3M835.5 458v3M835.5 464v3M835.5 470v3M835.5 476v3M835.5 482v3M835.5 488v3M835.5 494v3M835.5 500v3" stroke="#778899" stroke-width="1" fill="none"/>
<path d="M867.5 303v2M867.5 308v3M867.5 314v3M867.5 320v3M867.5 326v3M867.5 332v3M867.5 338v3M867.5 344v3M867.5 350v3M867.5 356v3M867.5 362v3M867.5 368v3M867.5 374v3M867.5 380v3M867.5 386v3M867.5 392v3M867.5 398v3M867.5 404v3M867.5 410v3M867.5 416v3M867.5 422v3M867.5 428v3M867.5 434v3M867.5 440v3M867.5 446v3M867.5 452v3M867.5 458v3M867.5 464v3M867.5 470v3M867.5 476v3M867.5 482v3M867.5 488v3M867.5 494v3M867.5 500v3" stroke="#778899" stroke-width="1" fill="none"/>
<path d="M899.5 303v2M899.5 308v3M899.5 314v3M899.5 320v3M899.5 326v3M899.5 332v3M899.5 338v3M899.5 344v3M899.5 350v3M899.5 356v3M899.5 362v3M899.5 368v3M899.5 374v3M899.5 380v3M899.5 386v3M899.5 392v3M899.5 398v3M899.5 404v3M899.5 410v3M899.5 416v3M899.5 422v3M899.5 428v3M899.5 434v3M899.5 440v3M899.5 446v3M899.5 452v3M899.5 458v3M899.5 464v3M899.5 470v3M899.5 476v3M899.5 482v3M899.5 488v3M899.5 494v3M899.5 500v3" stroke="#778899" stroke-width="1" fill="none"/>
<path d="M931.5 303v2M931.5 308v3M931.5 314v3M931.5 320v3M931.5 326v3M931.5 332v3M931.5 338v3M931.5 344v3M931.5 350v3M931.5 356v3M931.5 362v3M931.5 368v3M931.5 374v3M931.5 380v3M931.5 386v3M931.5 392v3M931.5 398v3M931.5 404v3M931.5 410v3M931.5 416v3M931.5 422v3M931.5 428v3M931.5 434v3M931.5 440v3M931.5 446v3M931.5 452v3M931.5 458v3M931.5 464v3M931.5 470v3M931.5 476v3M931.5 482v3M931.5 488v3M931.5 494v3M931.5 500v3" stroke="#778899" stroke-width="1" fill="none"/>
<path d="M963.5 303v2M963.5 308v3M963.5 314v3M963.5 320v3M963.5 326v3M963.5 332v3M963.5 338v3M963.5 344v3M963.5 350v3M963.5 356v3M963.5 362v3M963.5 368v3M963.5 374v3M963.5 380v3M963.5 386v3M963.5 392v3M963.5 398v3M963.5 404v3M963.5 410v3M963.5 416v3M963.5 422v3M963.5 428v3M963.5 434v3M963.5 440v3M963.5 446v3M963.5 452v3M963.5 458v3M963.5 464v3M963.5 470v3M963.5 476v3M963.5 482v3M963.5 488v3M963.5 494v3M963.5 500v3" stroke="#778899" stroke-width="1" fill="none"/>
<path d="M995.5 303v2M995.5 308v3M995.5 314v3M995.5 320v3M995.5 326v3M995.5 332v3M995.5 338v3M995.5 344v3M995.5 350v3M995.5 356v3M995.5 362v3M995.5 368v3M995.5 374v3M995.5 380v3M995.5 386v3M995.5 392v3M995.5 398v3M995.5 404v3M995.5 410v3M995.5 416v3M995.5 422v3M995.5 428v3M995.5 434v3M995.5 440v3M995.5 446v3M995.5 452v3M995.5 458v3M995.5 464v3M995.5 470v3M995.5 476v3M995.5 482v3M995.5 488v3M995.5 494v3M995.5 500v3" stroke="#778899" stroke-width="1" fill="none"/>
<path d="M1027.5 303v2M1027.5 308v3M1027.5 314v3M1027.5 320v3M1027.5 326v3M1027.5 332v3M1027.5 338v3M1027.5 344v3M1027.5 350v3M1027.5 356v3M1027.5 362v3M1027.5 368v3M1027.5 374v3M1027.5 380v3M1027.5 386v3M1027.5 392v3M1027.5 398v3M1027.5 404v3M1027.5 410v3M1027.5 416v3M1027.5 422v3M1027.5 428v3M1027.5 434v3M1027.5 440v3M1027.5 446v3M1027.5 452v3M1027.5 458v3M1027.5 464v3M1027.5 470v3M1027.5 476v3M1027.5 482v3M1027.5 488v3M1027.5 494v3M1027.5 500v3" stroke="#778899" stroke-width="1" fill="none"/>
<path d="M1059.5 303v2M1059.5 308v3M1059.5 314v3M1059.5 320v3M1059.5 326v3M1059.5 332v3M1059.5 338v3M1059.5 344v3M1059.5 350v3M1059.5 356v3M1059.5 362v3M1059.5 368v3M1059.5 374v3M1059.5 380v3M1059.5 386v3M1059.5 392v3M1059.5 398v3M1059.5 404v3M1059.5 410v3M1059.5 416v3M1059.5 422v3M1059.5 428v3M1059.5 434v3M1059.5 440v3M1059.5 446v3M1059.5 452v3M1059.5 458v3M1059.5 464v3M1059.5 470v3M1059.5 476v3M1059.5 482v3M1059.5 488v3M1059.5 494v3M1059.5 500v3" stroke="#778899" stroke-width="1" fill="none"/>
<path d="M1091.5 303v2M1091.5 308v3M1091.5 314v3M1091.5 320v3M1091.5 326v3M1091.5 332v3M1091.5 338v3M1091.5 344v3M1091.5 350v3M1091.5 356v3M1091.5 362v3M1091.5 368v3M1091.5 374v3M1091.5 380v3M1091.5 386v3M1091.5 392v3M1091.5 398v3M1091.5 404v3M1091.5 410v3M1091.5 416v3M1091.5 422v3M1091.5 428v3M1091.5 434v3M1091.5 440v3M1091.5 446v3M1091.5 452v3M1091.5 458v3M1091.5 464v3M1091.5 470v3M1091.5 476v3M1091.5 482v3M1091.5 488v3M1091.5 494v3M1091.5 500v3" stroke="#778899" stroke-width="1" fill="none"/>
<path d="M1123.5 303v2M1123.5 308v3M1123.5 314v3M1123.5 320v3M1123.5 326v3M1123.5 332v3M1123.5 338v3M1123.5 344v3M1123.5 350v3M1123.5 356v3M1123.5 362v3M1123.5 368v3M1123.5 374v3M1123.5 380v3M1123.5 386v3M1123.5 392v3M1123.5 398v3M1123.5 404v3M1123.5 410v3M1123.5 416v3M1123.5 422v3M1123.5 428v3M1123.5 434v3M1123.5 440v3M1123.5 446v3M1123.5 452v3M1123.5 458v3M1123.5 464v3M1123.5 470v3M1123.5 476v3M1123.5 482v3M1123.5 488v3M1123.5 494v3M1123.5 500v3" stroke="#778899" stroke-width="1" fill="none"/>
<path d="M1155.5 303v2M1155.5 308v3M1155.5 314v3M1155.5 320v3M1155.5 326v3M1155.5 332v3M1155.5 338v3M1155.5 344v3M1155.5 350v3M1155.5 356v3M1155.5 362v3M1155.5 368v3M1155.5 374v3M1155.5 380v3M1155.5 386v3M1155.5 392v3M1155.5 398v3M1155.5 404v3M1155.5 410v3M1155.5 416v3M1155.5 422v3M1155.5 428v3M1155.5 434v3M1155.5 440v3M1155.5 446v3M1155.5 452v3M1155.5 458v3M1155.5 464v3M1155.5 470v3M1155.5 476v3M1155.5 482v3M1155.5 488v3M1155.5 494v3M1155.5 500v3" stroke="#778899" stroke-width="1" fill="none"/>
<path d="M1187.5 303v2M1187.5 308v3M1187.5 314v3M1187.5 320v3M1187.5 326v3M1187.5 332v3M1187.5 338v3M1187.5 344v3M1187.5 350v3M1187.5 356v3M1187.5 362v3M1187.5 368v3M1187.5 374v3M1187.5 380v3M1187.5 386v3M1187.5 392v3M1187.5 398v3M1187.5 404v3M1187.5 410v3M1187.5 416v3M1187.5 422v3M1187.5 428v3M1187.5 434v3M1187.5 440v3M1187.5 446v3M1187.5 452v3M1187.5 458v3M1187.5 464v3M1187.5 470v3M1187.5 476v3M1187.5 482v3M1187.5 488v3M1187.5 494v3M1187.5 500v3" stroke="#778899" stroke-width="1" fill="none"/>
<path d="M1219.5 303v2M1219.5 308v3M1219.5 314v3M1219.5 320v3M1219.5 326v3M1219.5 332v3M1219.5 338v3M1219.5 344v3M1219.5 350v3M1219.5 356v3M1219.5 362v3M1219.5 368v3M1219.5 374v3M1219.5 380v3M1219.5 386v3M1219.5 392v3M1219.5 398v3M1219.5 404v3M1219.5 410v3M1219.5 416v3M1219.5 422v3M1219.5 428v3M1219.5 434v3M1219.5 440v3M1219.5 446v3M1219.5 452v3M1219.5 458v3M1219.5 464v3M1219.5 470v3M1219.5 476v3M1219.5 482v3M1219.5 488v3M1219.5 494v3M1219.5 500v3" stroke="#778899" stroke-width="1" fill="none"/>
<path d="M4 344.5h3M10 344.5h3M16 344.5h3M22 344.5h3M28 344.5h3M34 344.5h3M40 344.5h3M46 344.5h3M52 344.5h3M58 344.5h3M64 344.5h3M70 344.5h3M76 344.5h3M82 344.5h3M88 344.5h3M94 344.5h3M100 344.5h3M106 344.5h3M112 344.5h3M118 344.5h3M124 344.5h3M130 344.5h3M136 344.5h3M142 344.5h3M148 344.5h3M154 344.5h3M160 344.5h3M166 344.5h3M172 344.5h3M178 344.5h3M184 344.5h3M190 344.5h3M196 344.5h3M202 344.5h3M208 344.5h3M214 344.5h3M220 344.5h3M226 344.5h3M232 344.5h3M238 344.5h3M244 344.5h3M250 344.5h3M256 344.5h3M262 344.5h3M268 344.5h3M274 344.5h3M280 344.5h3M286 344.5h3M292 344.5h3M298 344.5h3M304 344.5h3M310 344.5h3M316 344.5h3M322 344.5h3M328 344.5h3M334 344.5h3M340 344.5h3M346 344.5h3M352 344.5h3M358 344.5h3M364 344.5h3M370 344.5h3M376 344.5h3M382 344.5h3M388 344.5h3M394 344.5h3M400 344.5h3M406 344.5h3M412 344.5h3M418 344.5h3M424 344.5h3M430 344.5h3M436 344.5h3M442 344.5h3M448 344.5h3M454 344.5h3M460 344.5h3M466 344.5h3M472 344.5h3M478 344.5h3M484 344.5h3M490 344.5h3M496 344.5h3M502 344.5h3M508 344.5h3M514 344.5h3M520 344.5h3M526 344.5h3M532 344.5h3M538 344.5h3M544 344.5h3M550 344.5h3M556 344.5h3M562 344.5h3M568 344.5h3M574 344.5h3M580 344.5h3M586 344.5h3M592 344.5h3M598 344.5h3M604 344.5h3M610 344.5h3M616 344.5h3M622 344.5h3M628 344.5h3M634 344.5h3M640 344.5h3M646 344.5h3M652 344.5h3M658 344.5h3M664 344.5h3M670 344.5h3M676 344.5h3M682 344.5h3M688 344.5h3M694 344.5h3M700 344.5h3M706 344.5h3M712 344.5h3M718 344.5h3M724 344.5h3M730 344.5h3M736 344.5h3M742 344.5h3M748 344.5h3M754 344.5h3M760 344.5h3M766 344.5h3M772 344.5h3M778 344.5h3M784 344.5h3M790 344.5h3M796 344.5h3M802 344.5h3M808 344.5h3M814 344.5h3M820 344.5h3M826 344.5h3M832 344.5h3M838 344.5h3M844 344.5h3M850 344.5h3M856 344.5h3M862 344.5h3M868 344.5h3M874 344.5h3M880 344.5h3M886 344.5h3M892 344.5h3M898 344.5h3M904 344.5h3M910 344.5h3M916 344.5h3M922 344.5h3M928 344.5h3M934 344.5h3M940 344.5h3M946 344.5h3M952 344.5h3M958 344.5h3M964 344.5h3M970 344.5h3M976 344.5h3M982 344.5h3M988 344.5h3M994 344.5h3M1000 344.5h3M1006 344.5h3M1012 344.5h3M1018 344.5h3M1024 344.5h3M1030 344.5h3M1036 344.5h3M1042 344.5h3M1048 344.5h3M1054 344.5h3M1060 344.5h3M1066 344.5h3M1072 344.5h3M1078 344.5h3M1084 344.5h3M1090 344.5h3M1096 344.5h3M1102 344.5h3M1108 344.5h3M1114 344.5h3M1120 344.5h3M1126 344.5h3M1132 344.5h3M1138 344.5h3M1144 344.5h3M1150 344.5h3M1156 344.5h3M1162 344.5h3M1168 344.5h3M1174 344.5h3M1180 344.5h3M1186 344.5h3M1192 344.5h3M1198 344.5h3M1204 344.5h3M1210 344.5h3M1216 344.5h3M1222 344.5h3" stroke="#c0c0c0" stroke-width="1" fill="none"/>
<path d="M4 465.5h3M10 465.5h3M16 465.5h3M22 465.5h3M28 465.5h3M34 465.5h3M40 465.5h3M46 465.5h3M52 465.5h3M58 465.5h3M64 465.5h3M70 465.5h3M76 465.5h3M82 465.5h3M88 465.5h3M94 465.5h3M100 465.5h3M106 465.5h3M112 465.5h3M118 465.5h3M124 465.5h3M130 465.5h3M136 465.5h3M142 465.5h3M148 465.5h3M154 465.5h3M160 465.5h3M166 465.5h3M172 465.5h3M178 465.5h3M184 465.5h3M190 465.5h3M196 465.5h3M202 465.5h3M208 465.5h3M214 465.5h3M220 465.5h3M226 465.5h3M232 465.5h3M238 465.5h3M244 465.5h3M250 465.5h3M256 465.5h3M262 465.5h3M268 465.5h3M274 465.5h3M280 465.5h3M286 465.5h3M292 465.5h3M298 465.5h3M304 465.5h3M310 465.5h3M316 465.5h3M322 465.5h3M328 465.5h3M334 465.5h3M340 465.5h3M346 465.5h3M352 465.5h3M358 465.5h3M364 465.5h3M370 465.5h3M376 465.5h3M382 465.5h3M388 465.5h3M394 465.5h3M400 465.5h3M406 465.5h3M412 465.5h3M418 465.5h3M424 465.5h3M430 465.5h3M436 465.5h3M442 465.5h3M448 465.5h3M454 465.5h3M460 465.5h3M466 465.5h3M472 465.5h3M478 465.5h3M484 465.5h3M490 465.5h3M496 465.5h3M502 465.5h3M508 465.5h3M514 465.5h3M520 465.5h3M526 465.5h3M532 465.5h3M538 465.5h3M544 465.5h3M550 465.5h3M556 465.5h3M562 465.5h3M568 465.5h3M574 465.5h3M580 465.5h3M586 465.5h3M592 465.5h3M598 465.5h3M604 465.5h3M610 465.5h3M616 465.5h3M622 465.5h3M628 465.5h3M634 465.5h3M640 465.5h3M646 465.5h3M652 465.5h3M658 465.5h3M664 465.5h3M670 465.5h3M676 465.5h3M682 465.5h3M688 465.5h3M694 465.5h3M700 465.5h3M706 465.5h3M712 465.5h3M718 465.5h3M724 465.5h3M730 465.5h3M736 465.5h3M742 465.5h3M748 465.5h3M754 465.5h3M760 465.5h3M766 465.5h3M772 465.5h3M778 465.5h3M784 465.5h3M790 465.5h3M796 465.5h3M802 465.5h3M808 465.5h3M814 465.5h3M820 465.5h3M826 465.5h3M832 465.5h3M838 465.5h3M844 465.5h3M850 465.5h3M856 465.5h3M862 465.5h3M868 465.5h3M874 465.5h3M880 465.5h3M886 465.5h3M892 465.5h3M898 465.5h3M904 465.5h3M910 465.5h3M916 465.5h3M922 465.5h3M928 465.5h3M934 465.5h3M940 465.5h3M946 465.5h3M952 465.5h3M958 465.5h3M964 465.5h3M970 465.5h3M976 465.5h3M982 465.5h3M988 465.5h3M994 465.5h3M1000 465.5h3M1006 465.5h3M1012 465.5h3M1018 465.5h3M1024 465.5h3M1030 465.5h3M1036 465.5h3M1042 465.5h3M1048 465.5h3M1054 465.5h3M1060 465.5h3M1066 465.5h3M1072 465.5h3M1078 465.5h3M1084 465.5h3M1090 465.5h3M1096 465.5h3M1102 465.5h3M1108 465.5h3M1114 465.5h3M1120 465.5h3M1126 465.5h3M1132 465.5h3M1138 465.5h3M1144 465.5h3M1150 465.5h3M1156 465.5h3M1162 465.5h3M1168 465.5h3M1174 465.5h3M1180 465.5h3M1186 465.5h3M1192 465.5h3M1198 465.5h3M1204 465.5h3M1210 465.5h3M1216 465.5h3M1222 465.5h3" stroke="#c0c0c0" stroke-width="1" fill="none"/>
<path d="M4 505.5h3M10 505.5h3M16 505.5h3M22 505.5h3M28 505.5h3M34 505.5h3M40 505.5h3M46 505.5h3M52 505.5h3M58 505.5h3M64 505.5h3M70 505.5h3M76 505.5h3M82 505.5h3M88 505.5h3M94 505.5h3M100 505.5h3M106 505.5h3M112 505.5h3M118 505.5h3M124 505.5h3M130 505.5h3M136 505.5h3M142 505.5h3M148 505.5h3M154 505.5h3M160 505.5h3M166 505.5h3M172 505.5h3M178 505.5h3M184 505.5h3M190 505.5h3M196 505.5h3M202 505.5h3M208 505.5h3M214 505.5h3M220 505.5h3M226 505.5h3M232 505.5h3M238 505.5h3M244 505.5h3M250 505.5h3M256 505.5h3M262 505.5h3M268 505.5h3M274 505.5h3M280 505.5h3M286 505.5h3M292 505.5h3M298 505.5h3M304 505.5h3M310 505.5h3M316 505.5h3M322 505.5h3M328 505.5h3M334 505.5h3M340 505.5h3M346 505.5h3M352 505.5h3M358 505.5h3M364 505.5h3M370 505.5h3M376 505.5h3M382 505.5h3M388 505.5h3M394 505.5h3M400 505.5h3M406 505.5h3M412 505.5h3M418 505.5h3M424 505.5h3M430 505.5h3M436 505.5h3M442 505.5h3M448 505.5h3M454 505.5h3M460 505.5h3M466 505.5h3M472 505.5h3M478 505.5h3M484 505.5h3M490 505.5h3M496 505.5h3M502 505.5h3M508 505.5h3M514 505.5h3M520 505.5h3M526 505.5h3M532 505.5h3M538 505.5h3M544 505.5h3M550 505.5h3M556 505.5h3M562 505.5h3M568 505.5h3M574 505.5h3M580 505.5h3M586 505.5h3M592 505.5h3M598 505.5h3M604 505.5h3M610 505.5h3M616 505.5h3M622 505.5h3M628 505.5h3M634 505.5h3M640 505.5h3M646 505.5h3M652 505.5h3M658 505.5h3M664 505.5h3M670 505.5h3M676 505.5h3M682 505.5h3M688 505.5h3M694 505.5h3M700 505.5h3M706 505.5h3M712 505.5h3M718 505.5h3M724 505.5h3M730 505.5h3M736 505.5h3M742 505.5h3M748 505.5h3M754 505.5h3M760 505.5h3M766 505.5h3M772 505.5h3M778 505.5h3M784 505.5h3M790 505.5h3M796 505.5h3M802 505.5h3M808 505.5h3M814 505.5h3M820 505.5h3M826 505.5h3M832 505.5h3M838 505.5h3M844 505.5h3M850 505.5h3M856 505.5h3M862 505.5h3M868 505.5h3M874 505.5h3M880 505.5h3M886 505.5h3M892 505.5h3M898 505.5h3M904 505.5h3M910 505.5h3M916 505.5h3M922 505.5h3M928 505.5h3M934 505.5h3M940 505.5h3M946 505.5h3M952 505.5h3M958 505.5h3M964 505.5h3M970 505.5h3M976 505.5h3M982 505.5h3M988 505.5h3M994 505.5h3M1000 505.5h3M1006 505.5h3M1012 505.5h3M1018 505.5h3M1024 505.5h3M1030 505.5h3M1036 505.5h3M1042 505.5h3M1048 505.5h3M1054 505.5h3M1060 505.5h3M1066 505.5h3M1072 505.5h3M1078 505.5h3M1084 505.5h3M1090 505.5h3M1096 505.5h3M1102 505.5h3M1108 505.5h3M1114 505.5h3M1120 505.5h3M1126 505.5h3M1132 505.5h3M1138 505.5h3M1144 505.5h3M1150 505.5h3M1156 505.5h3M1162 505.5h3M1168 505.5h3M1174 505.5h3M1180 505.5h3M1186 505.5h3M1192 505.5h3M1198 505.5h3M1204 505.5h3M1210 505.5h3M1216 505.5h3M1222 505.5h3" stroke="#778899" stroke-width="1" fill="none"/>
<path d="M3.50 396.50 L35.50 408.10 L67.50 419.60 L99.50 415.60 L131.50 421.90 L163.50 432.50 L195.50 455.70 L227.50 480.20 L259.50 485.90 L291.50 487.60 L323.50 471.00 L355.50 460.20 L387.50 435.10 L419.50 420.90 L451.50 400.90 L483.50 392.20 L515.50 381.50 L547.50 373.50 L579.50 365.80 L611.50 365.80 L643.50 372.00 L675.50 367.80 L707.50 383.20 L739.50 395.90 L771.50 407.70 L803.50 400.20 L835.50 439.50 L867.50 480.20 L899.50 496.40 L931.50 497.80 L963.50 487.30 L995.50 488.30" stroke="#20b2aa" stroke-width="1" fill="none"/>
<path d="M3.50 374.50 L35.50 391.30 L67.50 407.70 L99.50 415.60 L131.50 420.10 L163.50 423.40 L195.50 437.10 L227.50 455.70 L259.50 473.90 L291.50 485.20 L323.50 481.90 L355.50 473.50 L387.50 454.50 L419.50 438.80 L451.50 417.60 L483.50 404.70 L515.50 391.00 L547.50 381.50 L579.50 374.00 L611.50 369.00 L643.50 367.80 L675.50 368.30 L707.50 374.00 L739.50 381.50 L771.50 395.90 L803.50 400.70 L835.50 416.70 L867.50 440.00 L899.50 471.50 L931.50 491.10 L963.50 494.00 L995.50 490.30" stroke="#ff0000" stroke-width="1" fill="none" stroke-dasharray="3 3"/>
</g>
<g clip-path="url(#cd)">
<path d="M35.5 512v3M35.5 518v3M35.5 524v3M35.5 530v3M35.5 536v3M35.5 542v3M35.5 548v3M35.5 554v3M35.5 560v3M35.5 566v3M35.5 572v3M35.5 578v3M35.5 584v3M35.5 590v3M35.5 596v3M35.5 602v3M35.5 608v1" stroke="#778899" stroke-width="1" fill="none"/>
<path d="M67.5 512v3M67.5 518v3M67.5 524v3M67.5 530v3M67.5 536v3M67.5 542v3M67.5 548v3M67.5 554v3M67.5 560v3M67.5 566v3M67.5 572v3M67.5 578v3M67.5 584v3M67.5 590v3M67.5 596v3M67.5 602v3M67.5 608v1" stroke="#778899" stroke-width="1" fill="none"/>
<path d="M99.5 512v3M99.5 518v3M99.5 524v3M99.5 530v3M99.5 536v3M99.5 542v3M99.5 548v3M99.5 554v3M99.5 560v3M99.5 566v3M99.5 572v3M99.5 578v3M99.5 584v3M99.5 590v3M99.5 596v3M99.5 602v3M99.5 608v1" stroke="#778899" stroke-width="1" fill="none"/>
<path d="M131.5 512v3M131.5 518v3M131.5 524v3M131.5 530v3M131.5 536v3M131.5 542v3M131.5 548v3M131.5 554v3M131.5 560v3M131.5 566v3M131.5 572v3M131.5 578v3M131.5 584v3M131.5 590v3M131.5 596v3M131.5 602v3M131.5 608v1" stroke="#778899" stroke-width="1" fill="none"/>
<path d="M163.5 512v3M163.5 518v3M163.5 524v3M163.5 530v3M163.5 536v3M163.5 542v3M163.5 548v3M163.5 554v3M163.5 560v3M163.5 566v3M163.5 572v3M163.5 578v3M163.5 584v3M163.5 590v3M163.5 596v3M163.5 602v3M163.5 608v1" stroke="#778899" stroke-width="1" fill="none"/>
<path d="M195.5 512v3M195.5 518v3M195.5 524v3M195.5 530v3M195.5 536v3M195.5 542v3M195.5 548v3M195.5 554v3M195.5 560v3M195.5 566v3M195.5 572v3M195.5 578v3M195.5 584v3M195.5 590v3M195.5 596v3M195.5 602v3M195.5 608v1" stroke="#778899" stroke-width="1" fill="none"/>
<path d="M227.5 512v3M227.5 518v3M227.5 524v3M227.5 530v3M227.5 536v3M227.5 542v3M227.5 548v3M227.5 554v3M227.5 560v3M227.5 566v3M227.5 572v3M227.5 578v3M227.5 584v3M227.5 590v3M227.5 596v3M227.5 602v3M227.5 608v1" stroke="#778899" stroke-width="1" fill="none"/>
<path d="M259.5 512v3M259.5 518v3M259.5 524v3M259.5 530v3M259.5 536v3M259.5 542v3M259.5 548v3M259.5 554v3M259.5 560v3M259.5 566v3M259.5 572v3M259.5 578v3M259.5 584v3M259.5 590v3M259.5 596v3M259.5 602v3M259.5 608v1" stroke="#778899" stroke-width="1" fill="none"/>
<path d="M291.5 512v3M291.5 518v3M291.5 524v3M291.5 530v3M291.5 536v3M291.5 542v3M291.5 548v3M291.5 554v3M291.5 560v3M291.5 566v3M291.5 572v3M291.5 578v3M291.5 584v3M291.5 590v3M291.5 596v3M291.5 602v3M291.5 608v1" stroke="#778899" stroke-width="1" fill="none"/>
<path d="M323.5 512v3M323.5 518v3M323.5 524v3M323.5 530v3M323.5 536v3M323.5 542v3M323.5 548v3M323.5 554v3M323.5 560v3M323.5 566v3M323.5 572v3M323.5 578v3M323.5 584v3M323.5 590v3M323.5 596v3M323.5 602v3M323.5 608v1" stroke="#778899" stroke-width="1" fill="none"/>
<path d="M355.5 512v3M355.5 518v3M355.5 524v3M355.5 530v3M355.5 536v3M355.5 542v3M355.5 548v3M355.5 554v3M355.5 560v3M355.5 566v3M355.5 572v3M355.5 578v3M355.5 584v3M355.5 590v3M355.5 596v3M355.5 602v3M355.5 608v1" stroke="#778899" stroke-width="1" fill="none"/>
<path d="M387.5 512v3M387.5 518v3M387.5 524v3M387.5 530v3M387.5 536v3M387.5 542v3M387.5 548v3M387.5 554v3M387.5 560v3M387.5 566v3M387.5 572v3M387.5 578v3M387.5 584v3M387.5 590v3M387.5 596v3M387.5 602v3M387.5 608v1" stroke="#778899" stroke-width="1" fill="none"/>
<path d="M419.5 512v3M419.5 518v3M419.5 524v3M419.5 530v3M419.5 536v3M419.5 542v3M419.5 548v3M419.5 554v3M419.5 560v3M419.5 566v3M419.5 572v3M419.5 578v3M419.5 584v3M419.5 590v3M419.5 596v3M419.5 602v3M419.5 608v1" stroke="#778899" stroke-width="1" fill="none"/>
<path d="M451.5 512v3M451.5 518v3M451.5 524v3M451.5 530v3M451.5 536v3M451.5 542v3M451.5 548v3M451.5 554v3M451.5 560v3M451.5 566v3M451.5 572v3M451.5 578v3M451.5 584v3M451.5 590v3M451.5 596v3M451.5 602v3M451.5 608v1" stroke="#778899" stroke-width="1" fill="none"/>
<path d="M483.5 512v3M483.5 518v3M483.5 524v3M483.5 530v3M483.5 536v3M483.5 542v3M483.5 548v3M483.5 554v3M483.5 560v3M483.5 566v3M483.5 572v3M483.5 578v3M483.5 584v3M483.5 590v3M483.5 596v3M483.5 602v3M483.5 608v1" stroke="#778899" stroke-width="1" fill="none"/>
<path d="M515.5 512v3M515.5 518v3M515.5 524v3M515.5 530v3M515.5 536v3M515.5 542v3M515.5 548v3M515.5 554v3M515.5 560v3M515.5 566v3M515.5 572v3M515.5 578v3M515.5 584v3M515.5 590v3M515.5 596v3M515.5 602v3M515.5 608v1" stroke="#778899" stroke-width="1" fill="none"/>
<path d="M547.5 512v3M547.5 518v3M547.5 524v3M547.5 530v3M547.5 536v3M547.5 542v3M547.5 548v3M547.5 554v3M547.5 560v3M547.5 566v3M547.5 572v3M547.5 578v3M547.5 584v3M547.5 590v3M547.5 596v3M547.5 602v3M547.5 608v1" stroke="#778899" stroke-width="1" fill="none"/>
<path d="M579.5 512v3M579.5 518v3M579.5 524v3M579.5 530v3M579.5 536v3M579.5 542v3M579.5 548v3M579.5 554v3M579.5 560v3M579.5 566v3M579.5 572v3M579.5 578v3M579.5 584v3M579.5 590v3M579.5 596v3M579.5 602v3M579.5 608v1" stroke="#778899" stroke-width="1" fill="none"/>
<path d="M611.5 512v3M611.5 518v3M611.5 524v3M611.5 530v3M611.5 536v3M611.5 542v3M611.5 548v3M611.5 554v3M611.5 560v3M611.5 566v3M611.5 572v3M611.5 578v3M611.5 584v3M611.5 590v3M611.5 596v3M611.5 602v3M611.5 608v1" stroke="#778899" stroke-width="1" fill="none"/>
<path d="M643.5 512v3M643.5 518v3M643.5 524v3M643.5 530v3M643.5 536v3M643.5 542v3M643.5 548v3M643.5 554v3M643.5 560v3M643.5 566v3M643.5 572v3M643.5 578v3M643.5 584v3M643.5 590v3M643.5 596v3M643.5 602v3M643.5 608v1" stroke="#778899" stroke-width="1" fill="none"/>
<path d="M675.5 512v3M675.5 518v3M675.5 524v3M675.5 530v3M675.5 536v3M675.5 542v3M675.5 548v3M675.5 554v3M675.5 560v3M675.5 566v3M675.5 572v3M675.5 578v3M675.5 584v3M675.5 590v3M675.5 596v3M675.5 602v3M675.5 608v1" stroke="#778899" stroke-width="1" fill="none"/>
<path d="M707.5 512v3M707.5 518v3M707.5 524v3M707.5 530v3M707.5 536v3M707.5 542v3M707.5 548v3M707.5 554v3M707.5 560v3M707.5 566v3M707.5 572v3M707.5 578v3M707.5 584v3M707.5 590v3M707.5 596v3M707.5 602v3M707.5 608v1" stroke="#778899" stroke-width="1" fill="none"/>
<path d="M739.5 512v3M739.5 518v3M739.5 524v3M739.5 530v3M739.5 536v3M739.5 542v3M739.5 548v3M739.5 554v3M739.5 560v3M739.5 566v3M739.5 572v3M739.5 578v3M739.5 584v3M739.5 590v3M739.5 596v3M739.5 602v3M739.5 608v1" stroke="#778899" stroke-width="1" fill="none"/>
<path d="M771.5 512v3M771.5 518v3M771.5 524v3M771.5 530v3M771.5 536v3M771.5 542v3M771.5 548v3M771.5 554v3M771.5 560v3M771.5 566v3M771.5 572v3M771.5 578v3M771.5 584v3M771.5 590v3M771.5 596v3M771.5 602v3M771.5 608v1" stroke="#778899" stroke-width="1" fill="none"/>
<path d="M803.5 512v3M803.5 518v3M803.5 524v3M803.5 530v3M803.5 536v3M803.5 542v3M803.5 548v3M803.5 554v3M803.5 560v3M803.5 566v3M803.5 572v3M803.5 578v3M803.5 584v3M803.5 590v3M803.5 596v3M803.5 602v3M803.5 608v1" stroke="#778899" stroke-width="1" fill="none"/>
<path d="M835.5 512v3M835.5 518v3M835.5 524v3M835.5 530v3M835.5 536v3M835.5 542v3M835.5 548v3M835.5 554v3M835.5 560v3M835.5 566v3M835.5 572v3M835.5 578v3M835.5 584v3M835.5 590v3M835.5 596v3M835.5 602v3M835.5 608v1" stroke="#778899" stroke-width="1" fill="none"/>
<path d="M867.5 512v3M867.5 518v3M867.5 524v3M867.5 530v3M867.5 536v3M867.5 542v3M867.5 548v3M867.5 554v3M867.5 560v3M867.5 566v3M867.5 572v3M867.5 578v3M867.5 584v3M867.5 590v3M867.5 596v3M867.5 602v3M867.5 608v1" stroke="#778899" stroke-width="1" fill="none"/>
<path d="M899.5 512v3M899.5 518v3M899.5 524v3M899.5 530v3M899.5 536v3M899.5 542v3M899.5 548v3M899.5 554v3M899.5 560v3M899.5 566v3M899.5 572v3M899.5 578v3M899.5 584v3M899.5 590v3M899.5 596v3M899.5 602v3M899.5 608v1" stroke="#778899" stroke-width="1" fill="none"/>
<path d="M931.5 512v3M931.5 518v3M931.5 524v3M931.5 530v3M931.5 536v3M931.5 542v3M931.5 548v3M931.5 554v3M931.5 560v3M931.5 566v3M931.5 572v3M931.5 578v3M931.5 584v3M931.5 590v3M931.5 596v3M931.5 602v3M931.5 608v1" stroke="#778899" stroke-width="1" fill="none"/>
<path d="M963.5 512v3M963.5 518v3M963.5 524v3M963.5 530v3M963.5 536v3M963.5 542v3M963.5 548v3M963.5 554v3M963.5 560v3M963.5 566v3M963.5 572v3M963.5 578v3M963.5 584v3M963.5 590v3M963.5 596v3M963.5 602v3M963.5 608v1" stroke="#778899" stroke-width="1" fill="none"/>
<path d="M995.5 512v3M995.5 518v3M995.5 524v3M995.5 530v3M995.5 536v3M995.5 542v3M995.5 548v3M995.5 554v3M995.5 560v3M995.5 566v3M995.5 572v3M995.5 578v3M995.5 584v3M995.5 590v3M995.5 596v3M995.5 602v3M995.5 608v1" stroke="#778899" stroke-width="1" fill="none"/>
<path d="M1027.5 512v3M1027.5 518v3M1027.5 524v3M1027.5 530v3M1027.5 536v3M1027.5 542v3M1027.5 548v3M1027.5 554v3M1027.5 560v3M1027.5 566v3M1027.5 572v3M1027.5 578v3M1027.5 584v3M1027.5 590v3M1027.5 596v3M1027.5 602v3M1027.5 608v1" stroke="#778899" stroke-width="1" fill="none"/>
<path d="M1059.5 512v3M1059.5 518v3M1059.5 524v3M1059.5 530v3M1059.5 536v3M1059.5 542v3M1059.5 548v3M1059.5 554v3M1059.5 560v3M1059.5 566v3M1059.5 572v3M1059.5 578v3M1059.5 584v3M1059.5 590v3M1059.5 596v3M1059.5 602v3M1059.5 608v1" stroke="#778899" stroke-width="1" fill="none"/>
<path d="M1091.5 512v3M1091.5 518v3M1091.5 524v3M1091.5 530v3M1091.5 536v3M1091.5 542v3M1091.5 548v3M1091.5 554v3M1091.5 560v3M1091.5 566v3M1091.5 572v3M1091.5 578v3M1091.5 584v3M1091.5 590v3M1091.5 596v3M1091.5 602v3M1091.5 608v1" stroke="#778899" stroke-width="1" fill="none"/>
<path d="M1123.5 512v3M1123.5 518v3M1123.5 524v3M1123.5 530v3M1123.5 536v3M1123.5 542v3M1123.5 548v3M1123.5 554v3M1123.5 560v3M1123.5 566v3M1123.5 572v3M1123.5 578v3M1123.5 584v3M1123.5 590v3M1123.5 596v3M1123.5 602v3M1123.5 608v1" stroke="#778899" stroke-width="1" fill="none"/>
<path d="M1155.5 512v3M1155.5 518v3M1155.5 524v3M1155.5 530v3M1155.5 536v3M1155.5 542v3M1155.5 548v3M1155.5 554v3M1155.5 560v3M1155.5 566v3M1155.5 572v3M1155.5 578v3M1155.5 584v3M1155.5 590v3M1155.5 596v3M1155.5 602v3M1155.5 608v1" stroke="#778899" stroke-width="1" fill="none"/>
<path d="M1187.5 512v3M1187.5 518v3M1187.5 524v3M1187.5 530v3M1187.5 536v3M1187.5 542v3M1187.5 548v3M1187.5 554v3M1187.5 560v3M1187.5 566v3M1187.5 572v3M1187.5 578v3M1187.5 584v3M1187.5 590v3M1187.5 596v3M1187.5 602v3M1187.5 608v1" stroke="#778899" stroke-width="1" fill="none"/>
<path d="M1219.5 512v3M1219.5 518v3M1219.5 524v3M1219.5 530v3M1219.5 536v3M1219.5 542v3M1219.5 548v3M1219.5 554v3M1219.5 560v3M1219.5 566v3M1219.5 572v3M1219.5 578v3M1219.5 584v3M1219.5 590v3M1219.5 596v3M1219.5 602v3M1219.5 608v1" stroke="#778899" stroke-width="1" fill="none"/>
<path d="M4 529.5h3M10 529.5h3M16 529.5h3M22 529.5h3M28 529.5h3M34 529.5h3M40 529.5h3M46 529.5h3M52 529.5h3M58 529.5h3M64 529.5h3M70 529.5h3M76 529.5h3M82 529.5h3M88 529.5h3M94 529.5h3M100 529.5h3M106 529.5h3M112 529.5h3M118 529.5h3M124 529.5h3M130 529.5h3M136 529.5h3M142 529.5h3M148 529.5h3M154 529.5h3M160 529.5h3M166 529.5h3M172 529.5h3M178 529.5h3M184 529.5h3M190 529.5h3M196 529.5h3M202 529.5h3M208 529.5h3M214 529.5h3M220 529.5h3M226 529.5h3M232 529.5h3M238 529.5h3M244 529.5h3M250 529.5h3M256 529.5h3M262 529.5h3M268 529.5h3M274 529.5h3M280 529.5h3M286 529.5h3M292 529.5h3M298 529.5h3M304 529.5h3M310 529.5h3M316 529.5h3M322 529.5h3M328 529.5h3M334 529.5h3M340 529.5h3M346 529.5h3M352 529.5h3M358 529.5h3M364 529.5h3M370 529.5h3M376 529.5h3M382 529.5h3M388 529.5h3M394 529.5h3M400 529.5h3M406 529.5h3M412 529.5h3M418 529.5h3M424 529.5h3M430 529.5h3M436 529.5h3M442 529.5h3M448 529.5h3M454 529.5h3M460 529.5h3M466 529.5h3M472 529.5h3M478 529.5h3M484 529.5h3M490 529.5h3M496 529.5h3M502 529.5h3M508 529.5h3M514 529.5h3M520 529.5h3M526 529.5h3M532 529.5h3M538 529.5h3M544 529.5h3M550 529.5h3M556 529.5h3M562 529.5h3M568 529.5h3M574 529.5h3M580 529.5h3M586 529.5h3M592 529.5h3M598 529.5h3M604 529.5h3M610 529.5h3M616 529.5h3M622 529.5h3M628 529.5h3M634 529.5h3M640 529.5h3M646 529.5h3M652 529.5h3M658 529.5h3M664 529.5h3M670 529.5h3M676 529.5h3M682 529.5h3M688 529.5h3M694 529.5h3M700 529.5h3M706 529.5h3M712 529.5h3M718 529.5h3M724 529.5h3M730 529.5h3M736 529.5h3M742 529.5h3M748 529.5h3M754 529.5h3M760 529.5h3M766 529.5h3M772 529.5h3M778 529.5h3M784 529.5h3M790 529.5h3M796 529.5h3M802 529.5h3M808 529.5h3M814 529.5h3M820 529.5h3M826 529.5h3M832 529.5h3M838 529.5h3M844 529.5h3M850 529.5h3M856 529.5h3M862 529.5h3M868 529.5h3M874 529.5h3M880 529.5h3M886 529.5h3M892 529.5h3M898 529.5h3M904 529.5h3M910 529.5h3M916 529.5h3M922 529.5h3M928 529.5h3M934 529.5h3M940 529.5h3M946 529.5h3M952 529.5h3M958 529.5h3M964 529.5h3M970 529.5h3M976 529.5h3M982 529.5h3M988 529.5h3M994 529.5h3M1000 529.5h3M1006 529.5h3M1012 529.5h3M1018 529.5h3M1024 529.5h3M1030 529.5h3M1036 529.5h3M1042 529.5h3M1048 529.5h3M1054 529.5h3M1060 529.5h3M1066 529.5h3M1072 529.5h3M1078 529.5h3M1084 529.5h3M1090 529.5h3M1096 529.5h3M1102 529.5h3M1108 529.5h3M1114 529.5h3M1120 529.5h3M1126 529.5h3M1132 529.5h3M1138 529.5h3M1144 529.5h3M1150 529.5h3M1156 529.5h3M1162 529.5h3M1168 529.5h3M1174 529.5h3M1180 529.5h3M1186 529.5h3M1192 529.5h3M1198 529.5h3M1204 529.5h3M1210 529.5h3M1216 529.5h3M1222 529.5h3" stroke="#c0c0c0" stroke-width="1" fill="none"/>
<path d="M4 589.5h3M10 589.5h3M16 589.5h3M22 589.5h3M28 589.5h3M34 589.5h3M40 589.5h3M46 589.5h3M52 589.5h3M58 589.5h3M64 589.5h3M70 589.5h3M76 589.5h3M82 589.5h3M88 589.5h3M94 589.5h3M100 589.5h3M106 589.5h3M112 589.5h3M118 589.5h3M124 589.5h3M130 589.5h3M136 589.5h3M142 589.5h3M148 589.5h3M154 589.5h3M160 589.5h3M166 589.5h3M172 589.5h3M178 589.5h3M184 589.5h3M190 589.5h3M196 589.5h3M202 589.5h3M208 589.5h3M214 589.5h3M220 589.5h3M226 589.5h3M232 589.5h3M238 589.5h3M244 589.5h3M250 589.5h3M256 589.5h3M262 589.5h3M268 589.5h3M274 589.5h3M280 589.5h3M286 589.5h3M292 589.5h3M298 589.5h3M304 589.5h3M310 589.5h3M316 589.5h3M322 589.5h3M328 589.5h3M334 589.5h3M340 589.5h3M346 589.5h3M352 589.5h3M358 589.5h3M364 589.5h3M370 589.5h3M376 589.5h3M382 589.5h3M388 589.5h3M394 589.5h3M400 589.5h3M406 589.5h3M412 589.5h3M418 589.5h3M424 589.5h3M430 589.5h3M436 589.5h3M442 589.5h3M448 589.5h3M454 589.5h3M460 589.5h3M466 589.5h3M472 589.5h3M478 589.5h3M484 589.5h3M490 589.5h3M496 589.5h3M502 589.5h3M508 589.5h3M514 589.5h3M520 589.5h3M526 589.5h3M532 589.5h3M538 589.5h3M544 589.5h3M550 589.5h3M556 589.5h3M562 589.5h3M568 589.5h3M574 589.5h3M580 589.5h3M586 589.5h3M592 589.5h3M598 589.5h3M604 589.5h3M610 589.5h3M616 589.5h3M622 589.5h3M628 589.5h3M634 589.5h3M640 589.5h3M646 589.5h3M652 589.5h3M658 589.5h3M664 589.5h3M670 589.5h3M676 589.5h3M682 589.5h3M688 589.5h3M694 589.5h3M700 589.5h3M706 589.5h3M712 589.5h3M718 589.5h3M724 589.5h3M730 589.5h3M736 589.5h3M742 589.5h3M748 589.5h3M754 589.5h3M760 589.5h3M766 589.5h3M772 589.5h3M778 589.5h3M784 589.5h3M790 589.5h3M796 589.5h3M802 589.5h3M808 589.5h3M814 589.5h3M820 589.5h3M826 589.5h3M832 589.5h3M838 589.5h3M844 589.5h3M850 589.5h3M856 589.5h3M862 589.5h3M868 589.5h3M874 589.5h3M880 589.5h3M886 589.5h3M892 589.5h3M898 589.5h3M904 589.5h3M910 589.5h3M916 589.5h3M922 589.5h3M928 589.5h3M934 589.5h3M940 589.5h3M946 589.5h3M952 589.5h3M958 589.5h3M964 589.5h3M970 589.5h3M976 589.5h3M982 589.5h3M988 589.5h3M994 589.5h3M1000 589.5h3M1006 589.5h3M1012 589.5h3M1018 589.5h3M1024 589.5h3M1030 589.5h3M1036 589.5h3M1042 589.5h3M1048 589.5h3M1054 589.5h3M1060 589.5h3M1066 589.5h3M1072 589.5h3M1078 589.5h3M1084 589.5h3M1090 589.5h3M1096 589.5h3M1102 589.5h3M1108 589.5h3M1114 589.5h3M1120 589.5h3M1126 589.5h3M1132 589.5h3M1138 589.5h3M1144 589.5h3M1150 589.5h3M1156 589.5h3M1162 589.5h3M1168 589.5h3M1174 589.5h3M1180 589.5h3M1186 589.5h3M1192 589.5h3M1198 589.5h3M1204 589.5h3M1210 589.5h3M1216 589.5h3M1222 589.5h3" stroke="#c0c0c0" stroke-width="1" fill="none"/>
<path d="M4 608.5h3M10 608.5h3M16 608.5h3M22 608.5h3M28 608.5h3M34 608.5h3M40 608.5h3M46 608.5h3M52 608.5h3M58 608.5h3M64 608.5h3M70 608.5h3M76 608.5h3M82 608.5h3M88 608.5h3M94 608.5h3M100 608.5h3M106 608.5h3M112 608.5h3M118 608.5h3M124 608.5h3M130 608.5h3M136 608.5h3M142 608.5h3M148 608.5h3M154 608.5h3M160 608.5h3M166 608.5h3M172 608.5h3M178 608.5h3M184 608.5h3M190 608.5h3M196 608.5h3M202 608.5h3M208 608.5h3M214 608.5h3M220 608.5h3M226 608.5h3M232 608.5h3M238 608.5h3M244 608.5h3M250 608.5h3M256 608.5h3M262 608.5h3M268 608.5h3M274 608.5h3M280 608.5h3M286 608.5h3M292 608.5h3M298 608.5h3M304 608.5h3M310 608.5h3M316 608.5h3M322 608.5h3M328 608.5h3M334 608.5h3M340 608.5h3M346 608.5h3M352 608.5h3M358 608.5h3M364 608.5h3M370 608.5h3M376 608.5h3M382 608.5h3M388 608.5h3M394 608.5h3M400 608.5h3M406 608.5h3M412 608.5h3M418 608.5h3M424 608.5h3M430 608.5h3M436 608.5h3M442 608.5h3M448 608.5h3M454 608.5h3M460 608.5h3M466 608.5h3M472 608.5h3M478 608.5h3M484 608.5h3M490 608.5h3M496 608.5h3M502 608.5h3M508 608.5h3M514 608.5h3M520 608.5h3M526 608.5h3M532 608.5h3M538 608.5h3M544 608.5h3M550 608.5h3M556 608.5h3M562 608.5h3M568 608.5h3M574 608.5h3M580 608.5h3M586 608.5h3M592 608.5h3M598 608.5h3M604 608.5h3M610 608.5h3M616 608.5h3M622 608.5h3M628 608.5h3M634 608.5h3M640 608.5h3M646 608.5h3M652 608.5h3M658 608.5h3M664 608.5h3M670 608.5h3M676 608.5h3M682 608.5h3M688 608.5h3M694 608.5h3M700 608.5h3M706 608.5h3M712 608.5h3M718 608.5h3M724 608.5h3M730 608.5h3M736 608.5h3M742 608.5h3M748 608.5h3M754 608.5h3M760 608.5h3M766 608.5h3M772 608.5h3M778 608.5h3M784 608.5h3M790 608.5h3M796 608.5h3M802 608.5h3M808 608.5h3M814 608.5h3M820 608.5h3M826 608.5h3M832 608.5h3M838 608.5h3M844 608.5h3M850 608.5h3M856 608.5h3M862 608.5h3M868 608.5h3M874 608.5h3M880 608.5h3M886 608.5h3M892 608.5h3M898 608.5h3M904 608.5h3M910 608.5h3M916 608.5h3M922 608.5h3M928 608.5h3M934 608.5h3M940 608.5h3M946 608.5h3M952 608.5h3M958 608.5h3M964 608.5h3M970 608.5h3M976 608.5h3M982 608.5h3M988 608.5h3M994 608.5h3M1000 608.5h3M1006 608.5h3M1012 608.5h3M1018 608.5h3M1024 608.5h3M1030 608.5h3M1036 608.5h3M1042 608.5h3M1048 608.5h3M1054 608.5h3M1060 608.5h3M1066 608.5h3M1072 608.5h3M1078 608.5h3M1084 608.5h3M1090 608.5h3M1096 608.5h3M1102 608.5h3M1108 608.5h3M1114 608.5h3M1120 608.5h3M1126 608.5h3M1132 608.5h3M1138 608.5h3M1144 608.5h3M1150 608.5h3M1156 608.5h3M1162 608.5h3M1168 608.5h3M1174 608.5h3M1180 608.5h3M1186 608.5h3M1192 608.5h3M1198 608.5h3M1204 608.5h3M1210 608.5h3M1216 608.5h3M1222 608.5h3" stroke="#778899" stroke-width="1" fill="none"/>
<path d="M3.50 557.50 L35.50 559.20 L67.50 564.90 L99.50 563.70 L131.50 567.40 L163.50 575.60 L195.50 587.30 L227.50 596.50 L259.50 596.50 L291.50 599.00 L323.50 589.30 L355.50 583.10 L387.50 573.60 L419.50 565.40 L451.50 556.90 L483.50 554.40 L515.50 549.90 L547.50 543.00 L579.50 542.00 L611.50 544.70 L643.50 542.50 L675.50 540.00 L707.50 555.70 L739.50 557.90 L771.50 551.90 L803.50 557.40 L835.50 582.30 L867.50 596.50 L899.50 597.50 L931.50 602.80 L963.50 598.80 L995.50 598.80" stroke="#0000a0" stroke-width="1" fill="none"/>
<path d="M3.50 578.50 L35.50 593.10 L67.50 601.00 L99.50 604.80 L131.50 607.30 L163.50 608.50 L195.50 608.50 L227.50 608.50 L259.50 608.50 L291.50 608.50 L323.50 602.30 L355.50 592.30 L387.50 577.40 L419.50 554.20 L451.50 531.30 L483.50 520.80 L515.50 515.80 L547.50 512.60 L579.50 511.80 L611.50 513.30 L643.50 513.30 L675.50 512.10 L707.50 525.00 L739.50 535.70 L771.50 537.00 L803.50 550.70 L835.50 579.30 L867.50 594.80 L899.50 601.00 L931.50 605.80 L963.50 603.80 L995.50 602.60" stroke="#ff0000" stroke-width="1" fill="none"/>
</g>
<rect x="2.5" y="2.5" width="1226" height="298" fill="none" stroke="#fff" stroke-width="1"/>
<rect x="2.5" y="302.5" width="1226" height="204" fill="none" stroke="#fff" stroke-width="1"/>
<rect x="2.5" y="508.5" width="1226" height="101" fill="none" stroke="#fff" stroke-width="1"/>
<path d="M951.0 441.8 L1005.0 441.8 L1015.0 443.9 L1025.0 446.8 L1038.0 449.7 L1046.6 450.4 L1051.0 446.0 L1053.8 443.5 L1066.8 443.5 L1071.0 447.5 L1074.0 454.7 L1074.7 469.0 L1071.8 479.0 L1066.8 489.2 L1059.6 499.3 L1052.4 507.9 L1047.9 514.2 L1040.8 519.1 L1028.0 524.8 L1016.6 530.5 L999.5 539.8 L991.0 546.9 L983.9 551.1 L969.7 551.4 L952.6 549.0 L939.8 541.2 L921.3 529.8 L912.8 519.9 L910.0 512.7 L909.5 503.6 L910.8 493.5 L914.4 483.4 L921.6 472.0 L928.8 461.9 L934.5 451.8 L941.7 445.3 L951.0 441.8" stroke="#dc143c" stroke-width="4" fill="none" stroke-linejoin="round" stroke-linecap="round"/>
<rect x="1229" y="4" width="2" height="1" fill="#fff"/>
<rect x="1229" y="41" width="2" height="1" fill="#fff"/>
<rect x="1229" y="78" width="2" height="1" fill="#fff"/>
<rect x="1229" y="115" width="2" height="1" fill="#fff"/>
<rect x="1229" y="152" width="2" height="1" fill="#fff"/>
<rect x="1229" y="189" width="2" height="1" fill="#fff"/>
<rect x="1229" y="226" width="2" height="1" fill="#fff"/>
<rect x="1229" y="263" width="2" height="1" fill="#fff"/>
<rect x="1229" y="304" width="1" height="1" fill="#fff"/>
<rect x="1229" y="505" width="1" height="1" fill="#fff"/>
<rect x="1229" y="510" width="1" height="1" fill="#fff"/>
<rect x="1229" y="609" width="1" height="1" fill="#fff"/>
<rect x="3" y="610" width="1" height="3" fill="#fff"/>
<rect x="67" y="610" width="1" height="3" fill="#fff"/>
<rect x="131" y="610" width="1" height="3" fill="#fff"/>
<rect x="195" y="610" width="1" height="3" fill="#fff"/>
<rect x="259" y="610" width="1" height="3" fill="#fff"/>
<rect x="323" y="610" width="1" height="3" fill="#fff"/>
<rect x="387" y="610" width="1" height="3" fill="#fff"/>
<rect x="451" y="610" width="1" height="3" fill="#fff"/>
<rect x="515" y="610" width="1" height="3" fill="#fff"/>
<rect x="579" y="610" width="1" height="3" fill="#fff"/>
<rect x="643" y="610" width="1" height="3" fill="#fff"/>
<rect x="707" y="610" width="1" height="3" fill="#fff"/>
<rect x="771" y="610" width="1" height="3" fill="#fff"/>
<rect x="835" y="610" width="1" height="3" fill="#fff"/>
<rect x="899" y="610" width="1" height="3" fill="#fff"/>
<rect x="963" y="610" width="1" height="3" fill="#fff"/>
<defs><filter id="crisp" x="0" y="0" width="1" height="1"><feComponentTransfer><feFuncA type="discrete" tableValues="0 0 0 1 1 1 1 1"/></feComponentTransfer></filter></defs>
<g font-family="&apos;Liberation Sans&apos;, Arial, sans-serif" filter="url(#crisp)">
<text x="6.5" y="14" font-size="10" fill="#fff" textLength="182" lengthAdjust="spacingAndGlyphs">EURUSD,M5  1.3448 1.3449 1.3447 1.3448</text>
<text x="7" y="24" font-size="10" fill="#fff" textLength="219" lengthAdjust="spacingAndGlyphs">The price has exceeded the lower preset level 1.3447</text>
<text x="1182" y="15" font-size="10" fill="#fff" textLength="27" lengthAdjust="spacingAndGlyphs">testUB</text>
<text x="6.5" y="316" font-size="10" fill="#fff" textLength="117" lengthAdjust="spacingAndGlyphs">Stoch(14,3,3) 9.0909 7.6539</text>
<text x="6.5" y="522" font-size="10" fill="#fff" textLength="111" lengthAdjust="spacingAndGlyphs">DSS(3,14) 6.2463 10.7984</text>
<text x="5.5" y="604" font-size="10" fill="#fff" textLength="250" lengthAdjust="spacingAndGlyphs">MetaTrader 4, © 2001-2011 MetaQuotes Software Corp.</text>
<text x="1234.5" y="7" font-size="10" fill="#fff" textLength="28" lengthAdjust="spacingAndGlyphs">1.3480</text>
<text x="1234.5" y="44" font-size="10" fill="#fff" textLength="28" lengthAdjust="spacingAndGlyphs">1.3475</text>
<text x="1234.5" y="81" font-size="10" fill="#fff" textLength="28" lengthAdjust="spacingAndGlyphs">1.3470</text>
<text x="1234.5" y="118" font-size="10" fill="#fff" textLength="28" lengthAdjust="spacingAndGlyphs">1.3465</text>
<text x="1234.5" y="155" font-size="10" fill="#fff" textLength="28" lengthAdjust="spacingAndGlyphs">1.3460</text>
<text x="1234.5" y="192" font-size="10" fill="#fff" textLength="28" lengthAdjust="spacingAndGlyphs">1.3455</text>
<text x="1234.5" y="229" font-size="10" fill="#fff" textLength="28" lengthAdjust="spacingAndGlyphs">1.3450</text>
<text x="1234.5" y="266" font-size="10" fill="#fff" textLength="28" lengthAdjust="spacingAndGlyphs">1.3445</text>
<rect x="1231" y="234" width="34" height="11" fill="#ffffff"/>
<text x="1234.5" y="243" font-size="10" fill="#000" textLength="28" lengthAdjust="spacingAndGlyphs">1.3448</text>
<text x="1232.5" y="313" font-size="10" fill="#fff" textLength="14.5" lengthAdjust="spacingAndGlyphs">100</text>
<text x="1231" y="347" font-size="10" fill="#fff" textLength="10" lengthAdjust="spacingAndGlyphs">80</text>
<text x="1231" y="468" font-size="10" fill="#fff" textLength="10" lengthAdjust="spacingAndGlyphs">20</text>
<text x="1231.5" y="503" font-size="10" fill="#fff">0</text>
<text x="1232" y="519" font-size="10" fill="#fff" textLength="15" lengthAdjust="spacingAndGlyphs">100</text>
<text x="1231" y="533" font-size="10" fill="#fff" textLength="10" lengthAdjust="spacingAndGlyphs">80</text>
<text x="1231" y="592" font-size="10" fill="#fff" textLength="10" lengthAdjust="spacingAndGlyphs">20</text>
<text x="1231.5" y="606" font-size="10" fill="#fff">0</text>
<text x="2" y="622" font-size="10" fill="#fff" textLength="47" lengthAdjust="spacingAndGlyphs">5 Dec 2011</text>
<text x="66" y="622" font-size="10" fill="#fff" textLength="49" lengthAdjust="spacingAndGlyphs">5 Dec 15:55</text>
<text x="130" y="622" font-size="10" fill="#fff" textLength="49" lengthAdjust="spacingAndGlyphs">5 Dec 16:05</text>
<text x="194" y="622" font-size="10" fill="#fff" textLength="49" lengthAdjust="spacingAndGlyphs">5 Dec 16:15</text>
<text x="258" y="622" font-size="10" fill="#fff" textLength="49" lengthAdjust="spacingAndGlyphs">5 Dec 16:25</text>
<text x="322" y="622" font-size="10" fill="#fff" textLength="49" lengthAdjust="spacingAndGlyphs">5 Dec 16:35</text>
<text x="386" y="622" font-size="10" fill="#fff" textLength="49" lengthAdjust="spacingAndGlyphs">5 Dec 16:45</text>
<text x="450" y="622" font-size="10" fill="#fff" textLength="49" lengthAdjust="spacingAndGlyphs">5 Dec 16:55</text>
<text x="514" y="622" font-size="10" fill="#fff" textLength="49" lengthAdjust="spacingAndGlyphs">5 Dec 17:05</text>
<text x="578" y="622" font-size="10" fill="#fff" textLength="49" lengthAdjust="spacingAndGlyphs">5 Dec 17:15</text>
<text x="642" y="622" font-size="10" fill="#fff" textLength="49" lengthAdjust="spacingAndGlyphs">5 Dec 17:25</text>
<text x="706" y="622" font-size="10" fill="#fff" textLength="49" lengthAdjust="spacingAndGlyphs">5 Dec 17:35</text>
<text x="770" y="622" font-size="10" fill="#fff" textLength="49" lengthAdjust="spacingAndGlyphs">5 Dec 17:45</text>
<text x="834" y="622" font-size="10" fill="#fff" textLength="49" lengthAdjust="spacingAndGlyphs">5 Dec 17:55</text>
<text x="898" y="622" font-size="10" fill="#fff" textLength="49" lengthAdjust="spacingAndGlyphs">5 Dec 18:05</text>
<text x="962" y="622" font-size="10" fill="#fff" textLength="49" lengthAdjust="spacingAndGlyphs">5 Dec 18:15</text>
</g>
<path fill="#fff" d="M1216 6h1v1h-1zM1217 6h1v1h-1zM1218 6h1v1h-1zM1219 6h1v1h-1zM1220 6h1v1h-1zM1216 16h1v1h-1zM1217 16h1v1h-1zM1218 16h1v1h-1zM1219 16h1v1h-1zM1220 16h1v1h-1zM1213 9h1v1h-1zM1213 10h1v1h-1zM1213 11h1v1h-1zM1213 12h1v1h-1zM1213 13h1v1h-1zM1223 9h1v1h-1zM1223 10h1v1h-1zM1223 11h1v1h-1zM1223 12h1v1h-1zM1223 13h1v1h-1zM1215 7h1v1h-1zM1214 8h1v1h-1zM1214 14h1v1h-1zM1215 15h1v1h-1zM1221 7h1v1h-1zM1222 8h1v1h-1zM1222 14h1v1h-1zM1221 15h1v1h-1zM1216 9h1v1h-1zM1220 9h1v1h-1zM1215 11h1v1h-1zM1215 12h1v1h-1zM1216 13h1v1h-1zM1217 14h1v1h-1zM1218 14h1v1h-1zM1219 14h1v1h-1zM1220 13h1v1h-1zM1221 11h1v1h-1zM1221 12h1v1h-1z"/>
</svg></body></html>
